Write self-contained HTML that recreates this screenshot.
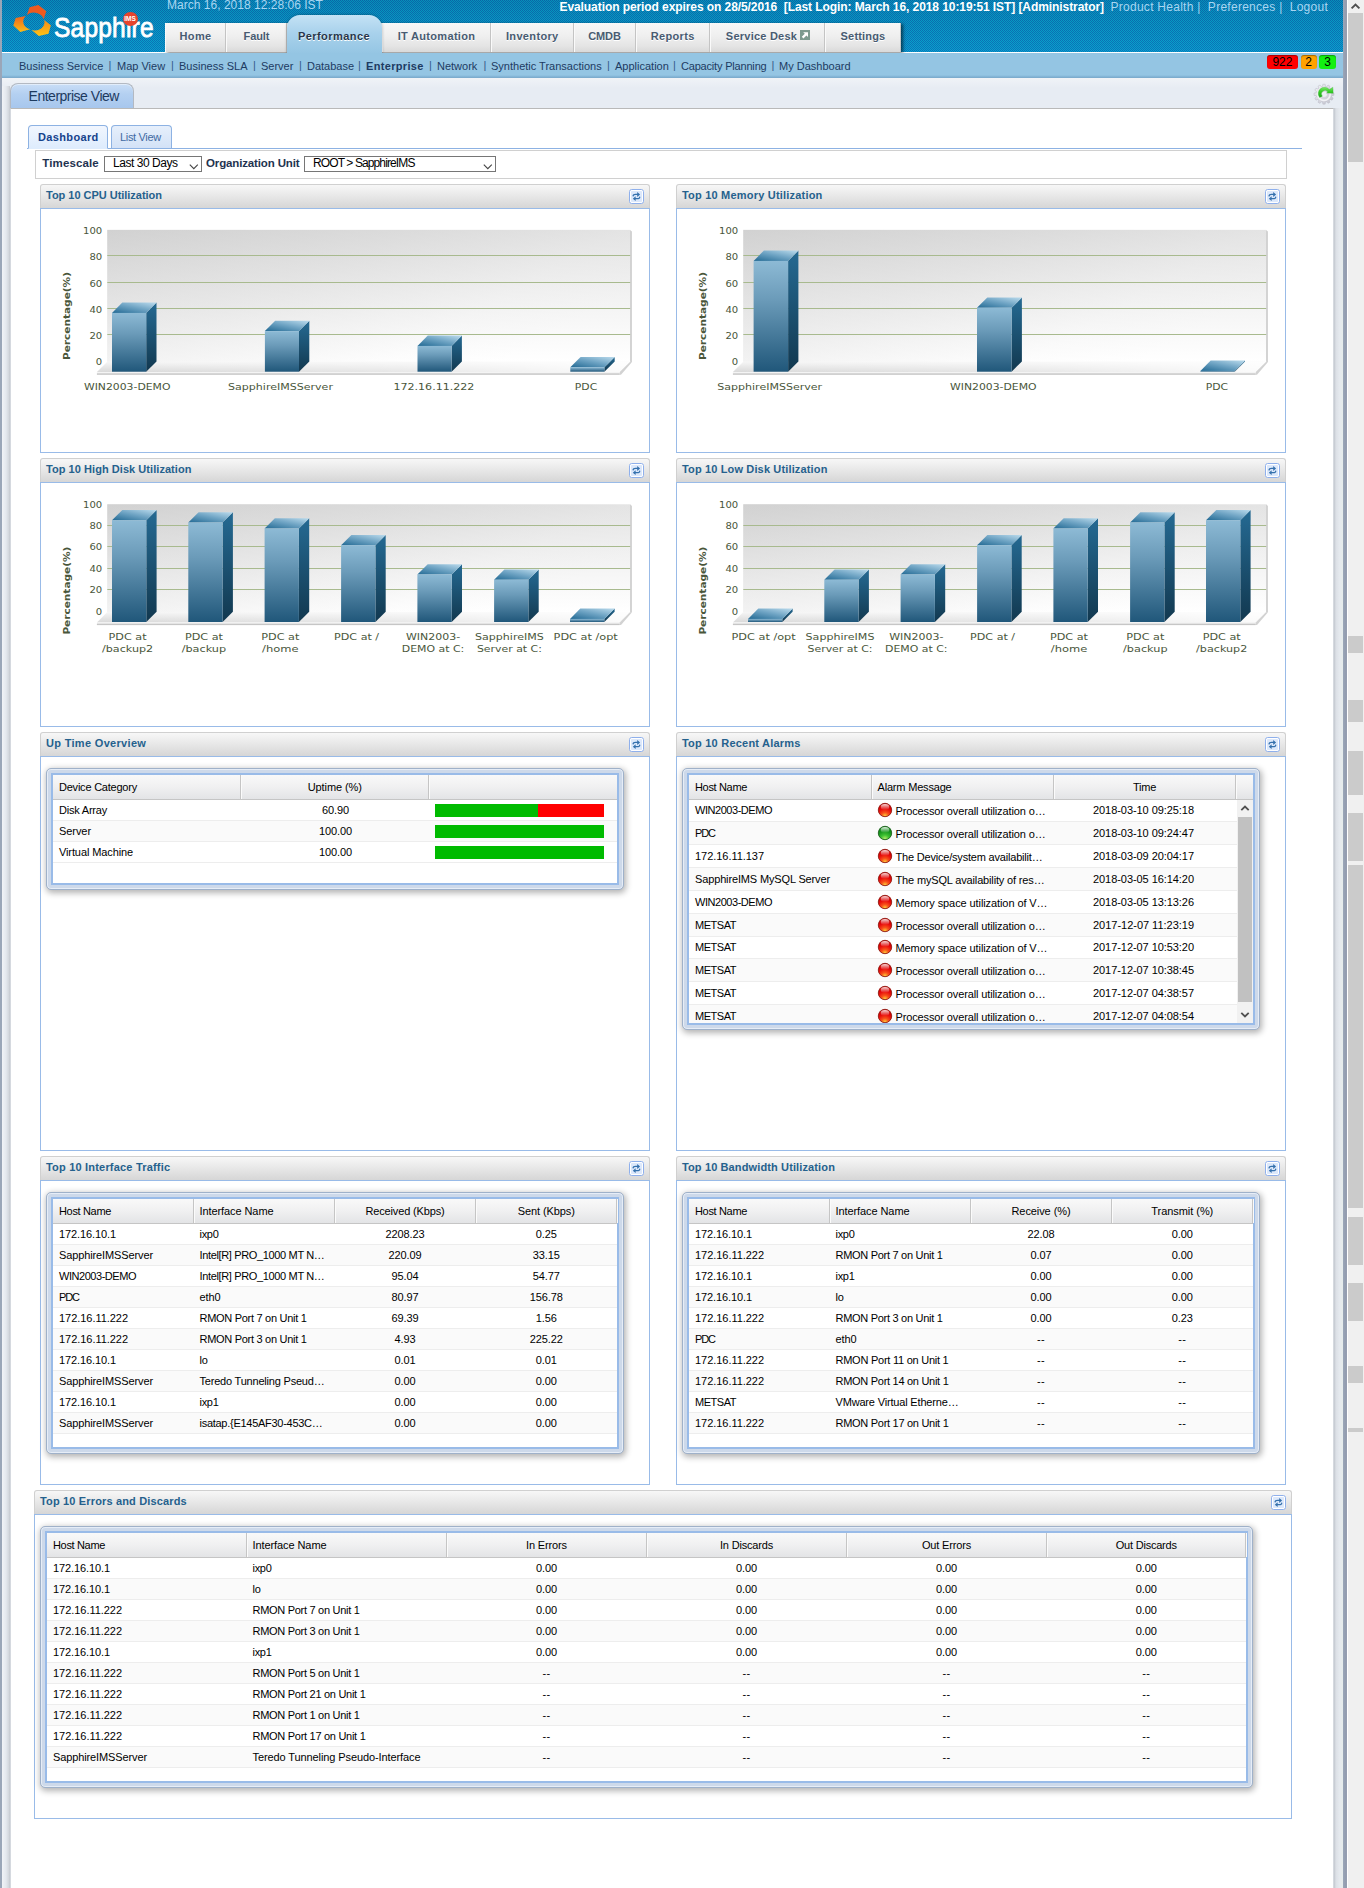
<!DOCTYPE html>
<html lang="en"><head><meta charset="utf-8"><title>SapphireIMS - Enterprise View</title>
<style>
html,body{margin:0;padding:0}
body{width:1364px;height:1888px;position:relative;overflow:hidden;background:#e7ecf3;font-family:"Liberation Sans",Arial,sans-serif;font-size:11px;color:#000}
.b{position:absolute;box-sizing:border-box}
.t{position:absolute;white-space:nowrap}
.hdr{background:linear-gradient(rgba(0,70,120,.22),rgba(0,70,120,.10) 40%,rgba(20,150,230,.10)),repeating-conic-gradient(#08a3cb 0% 25%,#0a72b5 0% 50%) 0 0/2px 2px}
.ntab{background:linear-gradient(#f7f7f7,#efefef 45%,#e4e4e4 80%,#d9d9d9);border-left:1px solid #fafafa;border-right:1px solid #c4c4c4}
.ntx{color:#485b71;text-shadow:0 1px 0 #fff}
.snav{background:linear-gradient(#94c5e3,#94c5e3 88%,#7fb0d2 96%,#7aa8c9)}
.sn{color:#1d3b62}
.ph{background:linear-gradient(#f7f7f7,#ececec 35%,#d6d6d6);border:1px solid #d0d0d0;border-bottom:none;border-radius:3px 3px 0 0}
.pt{color:#25618d}
.pb{border:1px solid #99bbe8;background:#fff}
.xf{border:1px solid #9fb1c9;border-radius:5px;background:#cdd9ea;box-shadow:1px 2px 6px 1px rgba(0,0,0,.30),inset 0 0 0 1px #e6edf7}
.xi{background:#99bbe8}
.gh{background:linear-gradient(#f9f9f9,#f0f0f1 50%,#e3e4e6);border-bottom:1px solid #c5c5c5}

</style></head>
<body>

<div class="b" style="left:2px;top:78px;width:1341px;height:1810px;background:linear-gradient(#f0f3f7,#e7ecf3 10px,#e7ecf3)"></div>
<div class="b" style="left:2px;top:86px;width:8px;height:1802px;background:linear-gradient(90deg,#f1f3f7,#e4e8ee 50%,#d3d7dd 85%,#c4c8cf)"></div>
<div class="b" style="left:1334px;top:108px;width:9px;height:1780px;background:linear-gradient(90deg,#c2c7ce,#dce0e6 22%,#e5e9ee 60%,#e6eceb)"></div>
<div class="b" style="left:1347px;top:0px;width:1px;height:1888px;background:#fff"></div>
<div class="b" style="left:1348px;top:0px;width:16px;height:1888px;background:#f0f0f0"></div>
<svg class="b" style="left:1347px;top:0" width="17" height="13" viewBox="0 0 17 13"><path d="M4.6 8.4 8.5 4.5 12.4 8.4" fill="none" stroke="#505050" stroke-width="1.9"/></svg>
<div class="b" style="left:1348.4px;top:13px;width:14.2px;height:148.5px;background:#cbcbcb"></div>
<div class="b" style="left:1348.4px;top:636px;width:14.2px;height:16.6px;background:#cbcbcb"></div>
<div class="b" style="left:1348.4px;top:700px;width:14.2px;height:22px;background:#cbcbcb"></div>
<div class="b" style="left:1348.4px;top:751px;width:14.2px;height:44px;background:#cbcbcb"></div>
<div class="b" style="left:1348.4px;top:813px;width:14.2px;height:47.5px;background:#cbcbcb"></div>
<div class="b" style="left:1348.4px;top:865px;width:14.2px;height:343.3px;background:#cbcbcb"></div>
<div class="b" style="left:1348.4px;top:1217.2px;width:14.2px;height:47.4px;background:#cbcbcb"></div>
<div class="b" style="left:1348.4px;top:1283px;width:14.2px;height:38px;background:#cbcbcb"></div>
<div class="b" style="left:1348.4px;top:1366px;width:14.2px;height:17px;background:#cbcbcb"></div>
<div class="b" style="left:1348.4px;top:1428px;width:14.2px;height:4px;background:#cbcbcb"></div>
<div class="b" style="left:0px;top:0px;width:2px;height:1888px;background:#9aa6b8"></div>
<div class="b" style="left:1343px;top:0px;width:4px;height:1888px;background:linear-gradient(90deg,#9ba7b8,#939db0 60%,#979fb0)"></div>
<div class="b hdr" style="left:2px;top:0px;width:1341px;height:52px;"></div>
<div class="b" style="left:2px;top:52px;width:1341px;height:1px;background:#fff"></div>
<svg class="b" style="left:8px;top:0px" width="60" height="42" viewBox="8 0 60 42">
<defs><linearGradient id="lgL" x1="0" y1="0" x2="0" y2="1"><stop offset="0" stop-color="#f1621d"/><stop offset="1" stop-color="#fbbd17"/></linearGradient>
<linearGradient id="lgR" x1="0" y1="0" x2="0" y2="1"><stop offset="0" stop-color="#f58a1b"/><stop offset="1" stop-color="#fbc414"/></linearGradient></defs>
<path d="M26.9 15 29.6 7.3 38.4 5.1 46.3 11.2 43.6 19.2 A9.9 8.2 0 0 0 26.9 15Z" fill="#ee5a1f"/>
<path d="M25.8 16 15.7 18 13.3 25.5 20.3 31.9 30.2 29.3 A9.9 8.2 0 0 1 25.8 16Z" fill="url(#lgL)"/>
<path d="M44.1 20 50.9 25.3 48.5 33.7 38.8 36.1 31.6 30.1 A9.9 8.2 0 0 0 44.1 20Z" fill="url(#lgR)"/>
</svg>
<div class="t" style="left:54.4px;top:11.60px;font-size:28px;line-height:32px;color:#fff;transform:scaleX(0.875);transform-origin:0 0;-webkit-text-stroke:0.85px #fff;letter-spacing:0.25px">Sapphire</div>
<div class="b" style="left:122.5px;top:11.5px;width:15px;height:14px;background:#e6442d;border-radius:50%"></div>
<div class="t" style="left:122.5px;top:14.95px;font-size:6.5px;line-height:8px;width:15px;text-align:center;color:#fff;font-weight:bold;letter-spacing:-0.1px">IMS</div>
<div class="t" style="left:167px;top:-3.16px;font-size:12px;line-height:16px;color:#a9d6f1;letter-spacing:0.02px">March 16, 2018 12:28:06 IST</div>
<div class="t evl" style="left:559.5px;top:-1.16px;font-size:12px;line-height:16px;color:#fff;font-weight:bold;white-space:pre;letter-spacing:-0.08px">Evaluation period expires on 28/5/2016  [Last Login: March 16, 2018 10:19:51 IST] [Administrator]</div>
<div class="t prh" style="left:1110.5px;top:-1.16px;font-size:12px;line-height:16px;color:#a9d6f1;white-space:pre;letter-spacing:0.27px">Product Health |  Preferences |  Logout</div>
<div class="b" style="left:165px;top:23px;width:736px;height:29px;box-shadow:2px 1px 3px rgba(0,0,0,.55);background:#eee"></div>
<div class="b ntab" style="left:165px;top:23px;width:61px;height:29px;"></div>
<div class="t ntx" style="left:165px;top:28.99px;font-size:11px;line-height:15px;width:61px;text-align:center;font-weight:bold;letter-spacing:0.359px;">Home</div>
<div class="b ntab" style="left:226px;top:23px;width:61px;height:29px;"></div>
<div class="t ntx" style="left:226px;top:28.99px;font-size:11px;line-height:15px;width:61px;text-align:center;font-weight:bold;letter-spacing:-0.096px;">Fault</div>
<div class="b ntab" style="left:382px;top:23px;width:109px;height:29px;"></div>
<div class="t ntx" style="left:382px;top:28.99px;font-size:11px;line-height:15px;width:109px;text-align:center;font-weight:bold;letter-spacing:0.313px;">IT Automation</div>
<div class="b ntab" style="left:491px;top:23px;width:82.5px;height:29px;"></div>
<div class="t ntx" style="left:491px;top:28.99px;font-size:11px;line-height:15px;width:82.5px;text-align:center;font-weight:bold;letter-spacing:0.343px;">Inventory</div>
<div class="b ntab" style="left:573.5px;top:23px;width:62px;height:29px;"></div>
<div class="t ntx" style="left:573.5px;top:28.99px;font-size:11px;line-height:15px;width:62px;text-align:center;font-weight:bold;letter-spacing:-0.100px;">CMDB</div>
<div class="b ntab" style="left:635.5px;top:23px;width:74.5px;height:29px;"></div>
<div class="t ntx" style="left:635.5px;top:28.99px;font-size:11px;line-height:15px;width:74.5px;text-align:center;font-weight:bold;letter-spacing:0.320px;">Reports</div>
<div class="b ntab" style="left:710px;top:23px;width:115px;height:29px;"></div>
<div class="t ntx" style="left:710px;top:28.99px;font-size:11px;line-height:15px;width:103px;text-align:center;font-weight:bold;letter-spacing:0.233px;">Service Desk</div>
<svg class="b" style="left:800px;top:30px" width="10" height="10" viewBox="0 0 10 10"><rect width="10" height="10" fill="#7d9a8f"/><path d="M3.2 2.2H8V7L6.4 5.4 3.4 8.4 1.8 6.8 4.8 3.8Z" fill="#fff"/></svg>
<div class="b ntab" style="left:825px;top:23px;width:76px;height:29px;"></div>
<div class="t ntx" style="left:825px;top:28.99px;font-size:11px;line-height:15px;width:76px;text-align:center;font-weight:bold;letter-spacing:0.174px;">Settings</div>
<div class="b" style="left:286.5px;top:15px;width:95px;height:39px;background:linear-gradient(#c4e2f5,#a9d2ec 45%,#94c5e3);border-radius:13px 13px 0 0;box-shadow:0 0 3px rgba(0,0,0,.35)"></div>
<div class="b" style="left:280px;top:53px;width:110px;height:3px;background:#94c5e3"></div>
<div class="t ntx" style="left:286.5px;top:28.99px;font-size:11px;line-height:15px;width:95px;text-align:center;font-weight:bold;letter-spacing:0.430px;color:#26364a">Performance</div>
<div class="b snav" style="left:2px;top:53px;width:1341px;height:25px;"></div>
<div class="t sn" style="left:19px;top:59.09px;font-size:11px;line-height:15px;">Business Service</div>
<div class="t sn" style="left:117px;top:59.09px;font-size:11px;line-height:15px;">Map View</div>
<div class="t sn" style="left:179px;top:59.09px;font-size:11px;line-height:15px;">Business SLA</div>
<div class="t sn" style="left:261px;top:59.09px;font-size:11px;line-height:15px;">Server</div>
<div class="t sn" style="left:307px;top:59.09px;font-size:11px;line-height:15px;">Database</div>
<div class="t sn" style="left:366px;top:59.09px;font-size:11px;line-height:15px;font-weight:bold;letter-spacing:0.33px">Enterprise</div>
<div class="t sn" style="left:437px;top:59.09px;font-size:11px;line-height:15px;">Network</div>
<div class="t sn" style="left:491px;top:59.09px;font-size:11px;line-height:15px;">Synthetic Transactions</div>
<div class="t sn" style="left:615px;top:59.09px;font-size:11px;line-height:15px;">Application</div>
<div class="t sn" style="left:681px;top:59.09px;font-size:11px;line-height:15px;letter-spacing:-0.187px;">Capacity Planning</div>
<div class="t sn" style="left:779px;top:59.09px;font-size:11px;line-height:15px;">My Dashboard</div>
<div class="t sn" style="left:108.5px;top:58.29px;font-size:11px;line-height:15px;color:#35598a">|</div>
<div class="t sn" style="left:171px;top:58.29px;font-size:11px;line-height:15px;color:#35598a">|</div>
<div class="t sn" style="left:253px;top:58.29px;font-size:11px;line-height:15px;color:#35598a">|</div>
<div class="t sn" style="left:299px;top:58.29px;font-size:11px;line-height:15px;color:#35598a">|</div>
<div class="t sn" style="left:358px;top:58.29px;font-size:11px;line-height:15px;color:#35598a">|</div>
<div class="t sn" style="left:429px;top:58.29px;font-size:11px;line-height:15px;color:#35598a">|</div>
<div class="t sn" style="left:483.5px;top:58.29px;font-size:11px;line-height:15px;color:#35598a">|</div>
<div class="t sn" style="left:607px;top:58.29px;font-size:11px;line-height:15px;color:#35598a">|</div>
<div class="t sn" style="left:673px;top:58.29px;font-size:11px;line-height:15px;color:#35598a">|</div>
<div class="t sn" style="left:771.5px;top:58.29px;font-size:11px;line-height:15px;color:#35598a">|</div>
<div class="b" style="left:1266.9px;top:55px;width:31.1px;height:14px;background:#ff0000;border-radius:3px;box-shadow:inset 0 1px 1px rgba(0,0,0,.35)"></div>
<div class="t" style="left:1266.9px;top:54.14px;font-size:12px;line-height:16px;width:31.1px;text-align:center;color:#000">922</div>
<div class="b" style="left:1300.5px;top:55px;width:16.3px;height:14px;background:#ffa200;border-radius:3px;box-shadow:inset 0 1px 1px rgba(0,0,0,.35)"></div>
<div class="t" style="left:1300.5px;top:54.14px;font-size:12px;line-height:16px;width:16.3px;text-align:center;color:#000">2</div>
<div class="b" style="left:1319.3px;top:55px;width:16.7px;height:14px;background:#12f012;border-radius:3px;box-shadow:inset 0 1px 1px rgba(0,0,0,.35)"></div>
<div class="t" style="left:1319.3px;top:54.14px;font-size:12px;line-height:16px;width:16.7px;text-align:center;color:#000">3</div>
<div class="b" style="left:10px;top:83px;width:124px;height:26px;background:linear-gradient(#c9def7,#b4d0f1 40%,#a6c6ed);border:1px solid #b3b9c2;border-bottom:none;border-radius:8px 8px 0 0;box-shadow:inset 0 1px 0 rgba(255,255,255,.45)"></div>
<div class="t" style="left:28.6px;top:86.95px;font-size:14px;line-height:18px;color:#1d3a5f;letter-spacing:-0.5px">Enterprise View</div>
<div class="b" style="left:10px;top:108px;width:1324px;height:1780px;background:#fff;border-top:1px solid #b9b9b9;border-left:1px solid #d5d9df;border-right:1px solid #d5d9df"></div>
<svg class="b" style="left:1312px;top:82px" width="24" height="24" viewBox="1312 82 24 24">
<defs><linearGradient id="gg" x1="0" y1="0" x2="1" y2="1"><stop offset="0" stop-color="#f6f6f9"/><stop offset="0.5" stop-color="#d9d9e0"/><stop offset="1" stop-color="#bfbfca"/></linearGradient>
<linearGradient id="ga" x1="0" y1="0" x2="0" y2="1"><stop offset="0" stop-color="#7be868"/><stop offset="0.45" stop-color="#35cc26"/><stop offset="1" stop-color="#1da51a"/></linearGradient></defs>
<g transform="translate(1324,94.2)"><polygon points="-1.46,-7.87 -1.13,-9.94 1.13,-9.94 1.46,-7.87 2.67,-7.54 3.99,-9.17 5.95,-8.04 5.20,-6.08 6.08,-5.20 8.04,-5.95 9.17,-3.99 7.54,-2.67 7.87,-1.46 9.94,-1.13 9.94,1.13 7.87,1.46 7.54,2.67 9.17,3.99 8.04,5.95 6.08,5.20 5.20,6.08 5.95,8.04 3.99,9.17 2.67,7.54 1.46,7.87 1.13,9.94 -1.13,9.94 -1.46,7.87 -2.67,7.54 -3.99,9.17 -5.95,8.04 -5.20,6.08 -6.08,5.20 -8.04,5.95 -9.17,3.99 -7.54,2.67 -7.87,1.46 -9.94,1.13 -9.94,-1.13 -7.87,-1.46 -7.54,-2.67 -9.17,-3.99 -8.04,-5.95 -6.08,-5.20 -5.20,-6.08 -5.95,-8.04 -3.99,-9.17 -2.67,-7.54" fill="url(#gg)" stroke="#b3b3c0" stroke-width="0.45" stroke-linejoin="round"/>
<circle r="6.2" fill="none" stroke="#f7f7fa" stroke-width="1.6" opacity="0.85"/>
<circle r="3.3" fill="#eef0f6" stroke="#c2c2cc" stroke-width="0.4"/></g>
<path d="M1319.6 97.4 A6.1 6.1 0 0 1 1329.4 89.6 L1332.8 87.2 1333.2 93.2 1326.6 93.1 1327.9 91.9 A3.1 3.1 0 0 0 1322.3 96.2Z" fill="url(#ga)" stroke="#27a522" stroke-width="0.3"/>
</svg>
<div class="b" style="left:26.5px;top:148px;width:1275.5px;height:1px;background:#8db2e3"></div>
<div class="b" style="left:28px;top:125px;width:80px;height:24px;background:linear-gradient(#f1f6fe,#deecfd);border:1px solid #8db2e3;border-bottom:1px solid #deecfd;border-radius:4px 4px 0 0"></div>
<div class="t" style="left:38px;top:129.99px;font-size:11px;line-height:15px;color:#15428b;font-weight:bold;letter-spacing:0.36px">Dashboard</div>
<div class="b" style="left:111px;top:125px;width:61px;height:23px;background:linear-gradient(#e6effb,#d3e2f7);border:1px solid #8db2e3;border-bottom:none;border-radius:4px 4px 0 0"></div>
<div class="t" style="left:120px;top:129.99px;font-size:11px;line-height:15px;color:#416aa3;letter-spacing:-0.33px">List View</div>
<div class="b" style="left:35px;top:150px;width:1252px;height:29px;border:1px solid #d0d0d0;background:#fff"></div>
<div class="t" style="left:42.3px;top:155.87px;font-size:11.5px;line-height:15.5px;font-weight:bold;letter-spacing:0.131px;color:#1f3350">Timescale</div>
<div class="b" style="left:104px;top:156px;width:98px;height:16px;border:1px solid #767676;background:#fff"></div>
<div class="t" style="left:113px;top:155.34px;font-size:12px;line-height:16px;letter-spacing:-0.462px;">Last 30 Days</div>
<svg class="b" style="left:187.5px;top:161.5px" width="12" height="9" viewBox="0 0 12 9"><path d="M1.8 2.6 5.8 6.6 9.8 2.6" fill="none" stroke="#444" stroke-width="1.1"/></svg>
<div class="t" style="left:206px;top:155.87px;font-size:11.5px;line-height:15.5px;font-weight:bold;letter-spacing:-0.138px;color:#1f3350">Organization Unit</div>
<div class="b" style="left:304px;top:156px;width:192px;height:16px;border:1px solid #767676;background:#fff"></div>
<div class="t" style="left:313px;top:155.34px;font-size:12px;line-height:16px;letter-spacing:-0.889px;">ROOT &gt; SapphireIMS</div>
<svg class="b" style="left:481.5px;top:161.5px" width="12" height="9" viewBox="0 0 12 9"><path d="M1.8 2.6 5.8 6.6 9.8 2.6" fill="none" stroke="#444" stroke-width="1.1"/></svg>
<div class="b ph" style="left:40px;top:184px;width:610px;height:24px;"></div>
<div class="t pt" style="left:46px;top:188.19px;font-size:11px;line-height:15px;font-weight:bold;letter-spacing:-0.024px;">Top 10 CPU Utilization</div>
<svg class="b" style="left:629px;top:189px" width="15" height="15" viewBox="0 0 15 15"><rect x="0.5" y="0.5" width="14" height="14" rx="2.2" fill="#fff" stroke="#8fb0ec"/><rect x="2" y="2" width="11" height="11" rx="0.8" fill="#dce8fb"/><g fill="none" stroke="#3571ad" stroke-width="1.25" stroke-linecap="round"><path d="M4.1 6.9 Q4.2 5.3 6.6 5.3 H8.6"/><path d="M10.7 8.2 Q10.6 9.7 8.2 9.7 H6.2"/></g><path d="M8.2 2.9 11.1 5.4 8.2 7.9Z" fill="#3571ad"/><path d="M6.6 7.3 3.8 9.7 6.6 12.1Z" fill="#3571ad"/></svg>
<div class="b pb" style="left:40px;top:208px;width:610px;height:245px;"></div>
<div class="b ph" style="left:676px;top:184px;width:610px;height:24px;"></div>
<div class="t pt" style="left:682px;top:188.19px;font-size:11px;line-height:15px;font-weight:bold;letter-spacing:0.201px;">Top 10 Memory Utilization</div>
<svg class="b" style="left:1265px;top:189px" width="15" height="15" viewBox="0 0 15 15"><rect x="0.5" y="0.5" width="14" height="14" rx="2.2" fill="#fff" stroke="#8fb0ec"/><rect x="2" y="2" width="11" height="11" rx="0.8" fill="#dce8fb"/><g fill="none" stroke="#3571ad" stroke-width="1.25" stroke-linecap="round"><path d="M4.1 6.9 Q4.2 5.3 6.6 5.3 H8.6"/><path d="M10.7 8.2 Q10.6 9.7 8.2 9.7 H6.2"/></g><path d="M8.2 2.9 11.1 5.4 8.2 7.9Z" fill="#3571ad"/><path d="M6.6 7.3 3.8 9.7 6.6 12.1Z" fill="#3571ad"/></svg>
<div class="b pb" style="left:676px;top:208px;width:610px;height:245px;"></div>
<div class="b ph" style="left:40px;top:458px;width:610px;height:24px;"></div>
<div class="t pt" style="left:46px;top:462.19px;font-size:11px;line-height:15px;font-weight:bold;letter-spacing:0.052px;">Top 10 High Disk Utilization</div>
<svg class="b" style="left:629px;top:463px" width="15" height="15" viewBox="0 0 15 15"><rect x="0.5" y="0.5" width="14" height="14" rx="2.2" fill="#fff" stroke="#8fb0ec"/><rect x="2" y="2" width="11" height="11" rx="0.8" fill="#dce8fb"/><g fill="none" stroke="#3571ad" stroke-width="1.25" stroke-linecap="round"><path d="M4.1 6.9 Q4.2 5.3 6.6 5.3 H8.6"/><path d="M10.7 8.2 Q10.6 9.7 8.2 9.7 H6.2"/></g><path d="M8.2 2.9 11.1 5.4 8.2 7.9Z" fill="#3571ad"/><path d="M6.6 7.3 3.8 9.7 6.6 12.1Z" fill="#3571ad"/></svg>
<div class="b pb" style="left:40px;top:482px;width:610px;height:245px;"></div>
<div class="b ph" style="left:676px;top:458px;width:610px;height:24px;"></div>
<div class="t pt" style="left:682px;top:462.19px;font-size:11px;line-height:15px;font-weight:bold;letter-spacing:0.145px;">Top 10 Low Disk Utilization</div>
<svg class="b" style="left:1265px;top:463px" width="15" height="15" viewBox="0 0 15 15"><rect x="0.5" y="0.5" width="14" height="14" rx="2.2" fill="#fff" stroke="#8fb0ec"/><rect x="2" y="2" width="11" height="11" rx="0.8" fill="#dce8fb"/><g fill="none" stroke="#3571ad" stroke-width="1.25" stroke-linecap="round"><path d="M4.1 6.9 Q4.2 5.3 6.6 5.3 H8.6"/><path d="M10.7 8.2 Q10.6 9.7 8.2 9.7 H6.2"/></g><path d="M8.2 2.9 11.1 5.4 8.2 7.9Z" fill="#3571ad"/><path d="M6.6 7.3 3.8 9.7 6.6 12.1Z" fill="#3571ad"/></svg>
<div class="b pb" style="left:676px;top:482px;width:610px;height:245px;"></div>
<div class="b ph" style="left:40px;top:732px;width:610px;height:24px;"></div>
<div class="t pt" style="left:46px;top:736.19px;font-size:11px;line-height:15px;font-weight:bold;letter-spacing:0.314px;">Up Time Overview</div>
<svg class="b" style="left:629px;top:737px" width="15" height="15" viewBox="0 0 15 15"><rect x="0.5" y="0.5" width="14" height="14" rx="2.2" fill="#fff" stroke="#8fb0ec"/><rect x="2" y="2" width="11" height="11" rx="0.8" fill="#dce8fb"/><g fill="none" stroke="#3571ad" stroke-width="1.25" stroke-linecap="round"><path d="M4.1 6.9 Q4.2 5.3 6.6 5.3 H8.6"/><path d="M10.7 8.2 Q10.6 9.7 8.2 9.7 H6.2"/></g><path d="M8.2 2.9 11.1 5.4 8.2 7.9Z" fill="#3571ad"/><path d="M6.6 7.3 3.8 9.7 6.6 12.1Z" fill="#3571ad"/></svg>
<div class="b pb" style="left:40px;top:756px;width:610px;height:395px;"></div>
<div class="b ph" style="left:676px;top:732px;width:610px;height:24px;"></div>
<div class="t pt" style="left:682px;top:736.19px;font-size:11px;line-height:15px;font-weight:bold;letter-spacing:0.219px;">Top 10 Recent Alarms</div>
<svg class="b" style="left:1265px;top:737px" width="15" height="15" viewBox="0 0 15 15"><rect x="0.5" y="0.5" width="14" height="14" rx="2.2" fill="#fff" stroke="#8fb0ec"/><rect x="2" y="2" width="11" height="11" rx="0.8" fill="#dce8fb"/><g fill="none" stroke="#3571ad" stroke-width="1.25" stroke-linecap="round"><path d="M4.1 6.9 Q4.2 5.3 6.6 5.3 H8.6"/><path d="M10.7 8.2 Q10.6 9.7 8.2 9.7 H6.2"/></g><path d="M8.2 2.9 11.1 5.4 8.2 7.9Z" fill="#3571ad"/><path d="M6.6 7.3 3.8 9.7 6.6 12.1Z" fill="#3571ad"/></svg>
<div class="b pb" style="left:676px;top:756px;width:610px;height:395px;"></div>
<div class="b ph" style="left:40px;top:1156px;width:610px;height:24px;"></div>
<div class="t pt" style="left:46px;top:1160.19px;font-size:11px;line-height:15px;font-weight:bold;letter-spacing:0.195px;">Top 10 Interface Traffic</div>
<svg class="b" style="left:629px;top:1161px" width="15" height="15" viewBox="0 0 15 15"><rect x="0.5" y="0.5" width="14" height="14" rx="2.2" fill="#fff" stroke="#8fb0ec"/><rect x="2" y="2" width="11" height="11" rx="0.8" fill="#dce8fb"/><g fill="none" stroke="#3571ad" stroke-width="1.25" stroke-linecap="round"><path d="M4.1 6.9 Q4.2 5.3 6.6 5.3 H8.6"/><path d="M10.7 8.2 Q10.6 9.7 8.2 9.7 H6.2"/></g><path d="M8.2 2.9 11.1 5.4 8.2 7.9Z" fill="#3571ad"/><path d="M6.6 7.3 3.8 9.7 6.6 12.1Z" fill="#3571ad"/></svg>
<div class="b pb" style="left:40px;top:1180px;width:610px;height:305px;"></div>
<div class="b ph" style="left:676px;top:1156px;width:610px;height:24px;"></div>
<div class="t pt" style="left:682px;top:1160.19px;font-size:11px;line-height:15px;font-weight:bold;letter-spacing:0.124px;">Top 10 Bandwidth Utilization</div>
<svg class="b" style="left:1265px;top:1161px" width="15" height="15" viewBox="0 0 15 15"><rect x="0.5" y="0.5" width="14" height="14" rx="2.2" fill="#fff" stroke="#8fb0ec"/><rect x="2" y="2" width="11" height="11" rx="0.8" fill="#dce8fb"/><g fill="none" stroke="#3571ad" stroke-width="1.25" stroke-linecap="round"><path d="M4.1 6.9 Q4.2 5.3 6.6 5.3 H8.6"/><path d="M10.7 8.2 Q10.6 9.7 8.2 9.7 H6.2"/></g><path d="M8.2 2.9 11.1 5.4 8.2 7.9Z" fill="#3571ad"/><path d="M6.6 7.3 3.8 9.7 6.6 12.1Z" fill="#3571ad"/></svg>
<div class="b pb" style="left:676px;top:1180px;width:610px;height:305px;"></div>
<div class="b ph" style="left:34px;top:1490px;width:1258px;height:24px;"></div>
<div class="t pt" style="left:40px;top:1494.19px;font-size:11px;line-height:15px;font-weight:bold;letter-spacing:0.155px;">Top 10 Errors and Discards</div>
<svg class="b" style="left:1271px;top:1495px" width="15" height="15" viewBox="0 0 15 15"><rect x="0.5" y="0.5" width="14" height="14" rx="2.2" fill="#fff" stroke="#8fb0ec"/><rect x="2" y="2" width="11" height="11" rx="0.8" fill="#dce8fb"/><g fill="none" stroke="#3571ad" stroke-width="1.25" stroke-linecap="round"><path d="M4.1 6.9 Q4.2 5.3 6.6 5.3 H8.6"/><path d="M10.7 8.2 Q10.6 9.7 8.2 9.7 H6.2"/></g><path d="M8.2 2.9 11.1 5.4 8.2 7.9Z" fill="#3571ad"/><path d="M6.6 7.3 3.8 9.7 6.6 12.1Z" fill="#3571ad"/></svg>
<div class="b pb" style="left:34px;top:1514px;width:1258px;height:305px;"></div>
<svg class="b" style="left:41px;top:209px" width="608" height="243" viewBox="41 209 608 243" font-family="DejaVu Sans, Verdana, sans-serif" font-size="9" fill="#49563a">
<defs>
<linearGradient id="c1bg" x1="0" y1="0" x2="1" y2="0.45"><stop offset="0" stop-color="#d3d3d3"/><stop offset="0.45" stop-color="#e7e7e7"/><stop offset="0.82" stop-color="#fbfbfb"/><stop offset="1" stop-color="#ffffff"/></linearGradient>
<linearGradient id="c1bgv" x1="0" y1="0" x2="0" y2="1"><stop offset="0" stop-color="#d0d0d0" stop-opacity="0.55"/><stop offset="1" stop-color="#ffffff" stop-opacity="0.55"/></linearGradient>
<linearGradient id="c1fl" x1="0" y1="0" x2="0" y2="1"><stop offset="0" stop-color="#f6f6f6"/><stop offset="1" stop-color="#d9d9d9"/></linearGradient>
<linearGradient id="c1flh" x1="0" y1="0" x2="1" y2="0"><stop offset="0" stop-color="#fff" stop-opacity="0"/><stop offset="0.55" stop-color="#fff" stop-opacity="0.35"/><stop offset="1" stop-color="#fff" stop-opacity="0.9"/></linearGradient>
<linearGradient id="c1ff" x1="0" y1="0" x2="0" y2="1"><stop offset="0" stop-color="#8dbad5"/><stop offset="0.35" stop-color="#6b9bb9"/><stop offset="1" stop-color="#20577a"/></linearGradient>
<linearGradient id="c1fs" x1="0" y1="0" x2="0" y2="1"><stop offset="0" stop-color="#256a93"/><stop offset="1" stop-color="#12384f"/></linearGradient>
<linearGradient id="c1ft" x1="0" y1="1" x2="0.9" y2="0"><stop offset="0" stop-color="#236a94"/><stop offset="0.55" stop-color="#6fa4c4"/><stop offset="1" stop-color="#b4d6e9"/></linearGradient>
</defs>
<rect x="107.3" y="229.9" width="522.9" height="131.8" fill="url(#c1bg)"/>
<rect x="107.3" y="229.9" width="522.9" height="131.8" fill="url(#c1bgv)"/>
<polygon points="630.2,229.9 631.8,231.5 631.8,362.2 630.2,361.7" fill="#c9c9c9"/>
<rect x="107.3" y="255" width="522.9" height="1" fill="#a8ba8e"/>
<rect x="107.3" y="282" width="522.9" height="1" fill="#a8ba8e"/>
<rect x="107.3" y="308" width="522.9" height="1" fill="#a8ba8e"/>
<rect x="107.3" y="334" width="522.9" height="1" fill="#a8ba8e"/>
<polygon points="107.3,361.7 630.2,361.7 619.8,372.1 96.9,372.1" fill="url(#c1fl)"/>
<polygon points="107.3,361.7 630.2,361.7 619.8,372.1 96.9,372.1" fill="url(#c1flh)"/>
<rect x="96.9" y="372.1" width="522.9" height="1.2" fill="#f3f3f3"/>
<rect x="96.9" y="373.3" width="522.9" height="1.5" fill="#c6c6c6"/>
<polygon points="630.2,361.7 631.8,362.2 621.0,374.8 619.8,374.8 619.8,372.1" fill="#d2d2d2"/>
<polygon points="146.2,312.9 156.5,302.6 156.5,361.4 146.2,371.7" fill="url(#c1fs)"/>
<polygon points="112.0,312.9 122.3,302.6 156.5,302.6 146.2,312.9" fill="url(#c1ft)"/>
<rect x="112.0" y="312.9" width="34.2" height="58.8" fill="url(#c1ff)"/>
<polygon points="299.0,331.1 309.3,320.8 309.3,361.4 299.0,371.7" fill="url(#c1fs)"/>
<polygon points="264.9,331.1 275.2,320.8 309.3,320.8 299.0,331.1" fill="url(#c1ft)"/>
<rect x="264.9" y="331.1" width="34.1" height="40.6" fill="url(#c1ff)"/>
<polygon points="451.6,345.9 461.9,335.6 461.9,361.4 451.6,371.7" fill="url(#c1fs)"/>
<polygon points="417.5,345.9 427.8,335.6 461.9,335.6 451.6,345.9" fill="url(#c1ft)"/>
<rect x="417.5" y="345.9" width="34.1" height="25.8" fill="url(#c1ff)"/>
<polygon points="604.4,367.2 614.7,356.9 614.7,361.4 604.4,371.7" fill="url(#c1fs)"/>
<polygon points="570.3,367.2 580.6,356.9 614.7,356.9 604.4,367.2" fill="url(#c1ft)"/>
<rect x="570.3" y="367.2" width="34.1" height="4.5" fill="url(#c1ff)"/>
<text x="102.2" y="233.6" text-anchor="end" textLength="19.2" lengthAdjust="spacingAndGlyphs">100</text>
<text x="102.2" y="259.6" text-anchor="end" textLength="12.8" lengthAdjust="spacingAndGlyphs">80</text>
<text x="102.2" y="286.6" text-anchor="end" textLength="12.8" lengthAdjust="spacingAndGlyphs">60</text>
<text x="102.2" y="312.6" text-anchor="end" textLength="12.8" lengthAdjust="spacingAndGlyphs">40</text>
<text x="102.2" y="338.6" text-anchor="end" textLength="12.8" lengthAdjust="spacingAndGlyphs">20</text>
<text x="102.2" y="364.6" text-anchor="end" textLength="6.4" lengthAdjust="spacingAndGlyphs">0</text>
<text transform="translate(69.8,316.0) rotate(-90)" text-anchor="middle" font-weight="bold" font-size="9.4" textLength="88" lengthAdjust="spacingAndGlyphs">Percentage(%)</text>
<text x="127.2" y="389.8" text-anchor="middle" textLength="86.5" lengthAdjust="spacingAndGlyphs">WIN2003-DEMO</text>
<text x="280.5" y="389.8" text-anchor="middle" textLength="104.9" lengthAdjust="spacingAndGlyphs">SapphireIMSServer</text>
<text x="433.9" y="389.8" text-anchor="middle" textLength="81.0" lengthAdjust="spacingAndGlyphs">172.16.11.222</text>
<text x="586.0" y="389.8" text-anchor="middle" textLength="22.4" lengthAdjust="spacingAndGlyphs">PDC</text>
</svg>
<svg class="b" style="left:677px;top:209px" width="608" height="243" viewBox="677 209 608 243" font-family="DejaVu Sans, Verdana, sans-serif" font-size="9" fill="#49563a">
<defs>
<linearGradient id="c2bg" x1="0" y1="0" x2="1" y2="0.45"><stop offset="0" stop-color="#d3d3d3"/><stop offset="0.45" stop-color="#e7e7e7"/><stop offset="0.82" stop-color="#fbfbfb"/><stop offset="1" stop-color="#ffffff"/></linearGradient>
<linearGradient id="c2bgv" x1="0" y1="0" x2="0" y2="1"><stop offset="0" stop-color="#d0d0d0" stop-opacity="0.55"/><stop offset="1" stop-color="#ffffff" stop-opacity="0.55"/></linearGradient>
<linearGradient id="c2fl" x1="0" y1="0" x2="0" y2="1"><stop offset="0" stop-color="#f6f6f6"/><stop offset="1" stop-color="#d9d9d9"/></linearGradient>
<linearGradient id="c2flh" x1="0" y1="0" x2="1" y2="0"><stop offset="0" stop-color="#fff" stop-opacity="0"/><stop offset="0.55" stop-color="#fff" stop-opacity="0.35"/><stop offset="1" stop-color="#fff" stop-opacity="0.9"/></linearGradient>
<linearGradient id="c2ff" x1="0" y1="0" x2="0" y2="1"><stop offset="0" stop-color="#8dbad5"/><stop offset="0.35" stop-color="#6b9bb9"/><stop offset="1" stop-color="#20577a"/></linearGradient>
<linearGradient id="c2fs" x1="0" y1="0" x2="0" y2="1"><stop offset="0" stop-color="#256a93"/><stop offset="1" stop-color="#12384f"/></linearGradient>
<linearGradient id="c2ft" x1="0" y1="1" x2="0.9" y2="0"><stop offset="0" stop-color="#236a94"/><stop offset="0.55" stop-color="#6fa4c4"/><stop offset="1" stop-color="#b4d6e9"/></linearGradient>
</defs>
<rect x="743.3" y="229.9" width="522.9" height="131.8" fill="url(#c2bg)"/>
<rect x="743.3" y="229.9" width="522.9" height="131.8" fill="url(#c2bgv)"/>
<polygon points="1266.2,229.9 1267.8,231.5 1267.8,362.2 1266.2,361.7" fill="#c9c9c9"/>
<rect x="743.3" y="255" width="522.9" height="1" fill="#a8ba8e"/>
<rect x="743.3" y="282" width="522.9" height="1" fill="#a8ba8e"/>
<rect x="743.3" y="308" width="522.9" height="1" fill="#a8ba8e"/>
<rect x="743.3" y="334" width="522.9" height="1" fill="#a8ba8e"/>
<polygon points="743.3,361.7 1266.2,361.7 1255.8,372.1 732.9,372.1" fill="url(#c2fl)"/>
<polygon points="743.3,361.7 1266.2,361.7 1255.8,372.1 732.9,372.1" fill="url(#c2flh)"/>
<rect x="732.9" y="372.1" width="522.9" height="1.2" fill="#f3f3f3"/>
<rect x="732.9" y="373.3" width="522.9" height="1.5" fill="#c6c6c6"/>
<polygon points="1266.2,361.7 1267.8,362.2 1257.0,374.8 1255.8,374.8 1255.8,372.1" fill="#d2d2d2"/>
<polygon points="788.1,260.9 798.4,250.6 798.4,361.4 788.1,371.7" fill="url(#c2fs)"/>
<polygon points="753.6,260.9 763.9,250.6 798.4,250.6 788.1,260.9" fill="url(#c2ft)"/>
<rect x="753.6" y="260.9" width="34.5" height="110.8" fill="url(#c2ff)"/>
<polygon points="1011.6,307.8 1021.9,297.5 1021.9,361.4 1011.6,371.7" fill="url(#c2fs)"/>
<polygon points="977.0,307.8 987.3,297.5 1021.9,297.5 1011.6,307.8" fill="url(#c2ft)"/>
<rect x="977.0" y="307.8" width="34.6" height="63.9" fill="url(#c2ff)"/>
<polygon points="1234.7,370.9 1245.0,360.6 1245.0,361.4 1234.7,371.7" fill="url(#c2fs)"/>
<polygon points="1200.4,370.9 1210.7,360.6 1245.0,360.6 1234.7,370.9" fill="url(#c2ft)"/>
<rect x="1200.4" y="370.9" width="34.3" height="0.8" fill="url(#c2ff)"/>
<text x="738.2" y="233.6" text-anchor="end" textLength="19.2" lengthAdjust="spacingAndGlyphs">100</text>
<text x="738.2" y="259.6" text-anchor="end" textLength="12.8" lengthAdjust="spacingAndGlyphs">80</text>
<text x="738.2" y="286.6" text-anchor="end" textLength="12.8" lengthAdjust="spacingAndGlyphs">60</text>
<text x="738.2" y="312.6" text-anchor="end" textLength="12.8" lengthAdjust="spacingAndGlyphs">40</text>
<text x="738.2" y="338.6" text-anchor="end" textLength="12.8" lengthAdjust="spacingAndGlyphs">20</text>
<text x="738.2" y="364.6" text-anchor="end" textLength="6.4" lengthAdjust="spacingAndGlyphs">0</text>
<text transform="translate(705.8,316.0) rotate(-90)" text-anchor="middle" font-weight="bold" font-size="9.4" textLength="88" lengthAdjust="spacingAndGlyphs">Percentage(%)</text>
<text x="769.7" y="389.8" text-anchor="middle" textLength="104.9" lengthAdjust="spacingAndGlyphs">SapphireIMSServer</text>
<text x="993.3" y="389.8" text-anchor="middle" textLength="86.5" lengthAdjust="spacingAndGlyphs">WIN2003-DEMO</text>
<text x="1216.9" y="389.8" text-anchor="middle" textLength="22.4" lengthAdjust="spacingAndGlyphs">PDC</text>
</svg>
<svg class="b" style="left:41px;top:483px" width="608" height="243" viewBox="41 483 608 243" font-family="DejaVu Sans, Verdana, sans-serif" font-size="9" fill="#49563a">
<defs>
<linearGradient id="c3bg" x1="0" y1="0" x2="1" y2="0.45"><stop offset="0" stop-color="#d3d3d3"/><stop offset="0.45" stop-color="#e7e7e7"/><stop offset="0.82" stop-color="#fbfbfb"/><stop offset="1" stop-color="#ffffff"/></linearGradient>
<linearGradient id="c3bgv" x1="0" y1="0" x2="0" y2="1"><stop offset="0" stop-color="#d0d0d0" stop-opacity="0.55"/><stop offset="1" stop-color="#ffffff" stop-opacity="0.55"/></linearGradient>
<linearGradient id="c3fl" x1="0" y1="0" x2="0" y2="1"><stop offset="0" stop-color="#f6f6f6"/><stop offset="1" stop-color="#d9d9d9"/></linearGradient>
<linearGradient id="c3flh" x1="0" y1="0" x2="1" y2="0"><stop offset="0" stop-color="#fff" stop-opacity="0"/><stop offset="0.55" stop-color="#fff" stop-opacity="0.35"/><stop offset="1" stop-color="#fff" stop-opacity="0.9"/></linearGradient>
<linearGradient id="c3ff" x1="0" y1="0" x2="0" y2="1"><stop offset="0" stop-color="#8dbad5"/><stop offset="0.35" stop-color="#6b9bb9"/><stop offset="1" stop-color="#20577a"/></linearGradient>
<linearGradient id="c3fs" x1="0" y1="0" x2="0" y2="1"><stop offset="0" stop-color="#256a93"/><stop offset="1" stop-color="#12384f"/></linearGradient>
<linearGradient id="c3ft" x1="0" y1="1" x2="0.9" y2="0"><stop offset="0" stop-color="#236a94"/><stop offset="0.55" stop-color="#6fa4c4"/><stop offset="1" stop-color="#b4d6e9"/></linearGradient>
</defs>
<rect x="107.3" y="504.3" width="522.9" height="107.7" fill="url(#c3bg)"/>
<rect x="107.3" y="504.3" width="522.9" height="107.7" fill="url(#c3bgv)"/>
<polygon points="630.2,504.3 631.8,505.9 631.8,612.5 630.2,612.0" fill="#c9c9c9"/>
<rect x="107.3" y="525" width="522.9" height="1" fill="#a8ba8e"/>
<rect x="107.3" y="546" width="522.9" height="1" fill="#a8ba8e"/>
<rect x="107.3" y="568" width="522.9" height="1" fill="#a8ba8e"/>
<rect x="107.3" y="589" width="522.9" height="1" fill="#a8ba8e"/>
<polygon points="107.3,612.0 630.2,612.0 619.8,622.4 96.9,622.4" fill="url(#c3fl)"/>
<polygon points="107.3,612.0 630.2,612.0 619.8,622.4 96.9,622.4" fill="url(#c3flh)"/>
<rect x="96.9" y="622.4" width="522.9" height="1.2" fill="#f3f3f3"/>
<rect x="96.9" y="623.6" width="522.9" height="1.5" fill="#c6c6c6"/>
<polygon points="630.2,612.0 631.8,612.5 621.0,625.1 619.8,625.1 619.8,622.4" fill="#d2d2d2"/>
<polygon points="146.3,520.2 156.6,509.9 156.6,611.7 146.3,622.0" fill="url(#c3fs)"/>
<polygon points="112.0,520.2 122.3,509.9 156.6,509.9 146.3,520.2" fill="url(#c3ft)"/>
<rect x="112.0" y="520.2" width="34.3" height="101.8" fill="url(#c3ff)"/>
<polygon points="222.6,522.5 232.9,512.2 232.9,611.7 222.6,622.0" fill="url(#c3fs)"/>
<polygon points="188.3,522.5 198.6,512.2 232.9,512.2 222.6,522.5" fill="url(#c3ft)"/>
<rect x="188.3" y="522.5" width="34.3" height="99.5" fill="url(#c3ff)"/>
<polygon points="298.9,528.5 309.2,518.2 309.2,611.7 298.9,622.0" fill="url(#c3fs)"/>
<polygon points="264.6,528.5 274.9,518.2 309.2,518.2 298.9,528.5" fill="url(#c3ft)"/>
<rect x="264.6" y="528.5" width="34.3" height="93.5" fill="url(#c3ff)"/>
<polygon points="375.4,545.2 385.7,535.0 385.7,611.7 375.4,622.0" fill="url(#c3fs)"/>
<polygon points="341.1,545.2 351.4,535.0 385.7,535.0 375.4,545.2" fill="url(#c3ft)"/>
<rect x="341.1" y="545.2" width="34.3" height="76.8" fill="url(#c3ff)"/>
<polygon points="451.7,574.5 462.0,564.2 462.0,611.7 451.7,622.0" fill="url(#c3fs)"/>
<polygon points="417.4,574.5 427.7,564.2 462.0,564.2 451.7,574.5" fill="url(#c3ft)"/>
<rect x="417.4" y="574.5" width="34.3" height="47.5" fill="url(#c3ff)"/>
<polygon points="528.4,579.8 538.7,569.5 538.7,611.7 528.4,622.0" fill="url(#c3fs)"/>
<polygon points="494.1,579.8 504.4,569.5 538.7,569.5 528.4,579.8" fill="url(#c3ft)"/>
<rect x="494.1" y="579.8" width="34.3" height="42.2" fill="url(#c3ff)"/>
<polygon points="604.3,618.9 614.6,608.6 614.6,611.7 604.3,622.0" fill="url(#c3fs)"/>
<polygon points="570.0,618.9 580.3,608.6 614.6,608.6 604.3,618.9" fill="url(#c3ft)"/>
<rect x="570.0" y="618.9" width="34.3" height="3.1" fill="url(#c3ff)"/>
<text x="102.2" y="507.9" text-anchor="end" textLength="19.2" lengthAdjust="spacingAndGlyphs">100</text>
<text x="102.2" y="528.9" text-anchor="end" textLength="12.8" lengthAdjust="spacingAndGlyphs">80</text>
<text x="102.2" y="549.9" text-anchor="end" textLength="12.8" lengthAdjust="spacingAndGlyphs">60</text>
<text x="102.2" y="571.9" text-anchor="end" textLength="12.8" lengthAdjust="spacingAndGlyphs">40</text>
<text x="102.2" y="592.9" text-anchor="end" textLength="12.8" lengthAdjust="spacingAndGlyphs">20</text>
<text x="102.2" y="614.9" text-anchor="end" textLength="6.4" lengthAdjust="spacingAndGlyphs">0</text>
<text transform="translate(69.8,590.6) rotate(-90)" text-anchor="middle" font-weight="bold" font-size="9.4" textLength="88" lengthAdjust="spacingAndGlyphs">Percentage(%)</text>
<text x="127.6" y="640.0" text-anchor="middle" textLength="38.0" lengthAdjust="spacingAndGlyphs">PDC at</text>
<text x="127.6" y="652.0" text-anchor="middle" textLength="51.2" lengthAdjust="spacingAndGlyphs">/backup2</text>
<text x="203.9" y="640.0" text-anchor="middle" textLength="38.0" lengthAdjust="spacingAndGlyphs">PDC at</text>
<text x="203.9" y="652.0" text-anchor="middle" textLength="44.5" lengthAdjust="spacingAndGlyphs">/backup</text>
<text x="280.3" y="640.0" text-anchor="middle" textLength="38.0" lengthAdjust="spacingAndGlyphs">PDC at</text>
<text x="280.3" y="652.0" text-anchor="middle" textLength="36.5" lengthAdjust="spacingAndGlyphs">/home</text>
<text x="356.6" y="640.0" text-anchor="middle" textLength="45.0" lengthAdjust="spacingAndGlyphs">PDC at /</text>
<text x="433.0" y="640.0" text-anchor="middle" textLength="54.2" lengthAdjust="spacingAndGlyphs">WIN2003-</text>
<text x="433.0" y="652.0" text-anchor="middle" textLength="62.5" lengthAdjust="spacingAndGlyphs">DEMO at C:</text>
<text x="509.4" y="640.0" text-anchor="middle" textLength="68.8" lengthAdjust="spacingAndGlyphs">SapphireIMS</text>
<text x="509.4" y="652.0" text-anchor="middle" textLength="65.0" lengthAdjust="spacingAndGlyphs">Server at C:</text>
<text x="585.7" y="640.0" text-anchor="middle" textLength="64.2" lengthAdjust="spacingAndGlyphs">PDC at /opt</text>
</svg>
<svg class="b" style="left:677px;top:483px" width="608" height="243" viewBox="677 483 608 243" font-family="DejaVu Sans, Verdana, sans-serif" font-size="9" fill="#49563a">
<defs>
<linearGradient id="c4bg" x1="0" y1="0" x2="1" y2="0.45"><stop offset="0" stop-color="#d3d3d3"/><stop offset="0.45" stop-color="#e7e7e7"/><stop offset="0.82" stop-color="#fbfbfb"/><stop offset="1" stop-color="#ffffff"/></linearGradient>
<linearGradient id="c4bgv" x1="0" y1="0" x2="0" y2="1"><stop offset="0" stop-color="#d0d0d0" stop-opacity="0.55"/><stop offset="1" stop-color="#ffffff" stop-opacity="0.55"/></linearGradient>
<linearGradient id="c4fl" x1="0" y1="0" x2="0" y2="1"><stop offset="0" stop-color="#f6f6f6"/><stop offset="1" stop-color="#d9d9d9"/></linearGradient>
<linearGradient id="c4flh" x1="0" y1="0" x2="1" y2="0"><stop offset="0" stop-color="#fff" stop-opacity="0"/><stop offset="0.55" stop-color="#fff" stop-opacity="0.35"/><stop offset="1" stop-color="#fff" stop-opacity="0.9"/></linearGradient>
<linearGradient id="c4ff" x1="0" y1="0" x2="0" y2="1"><stop offset="0" stop-color="#8dbad5"/><stop offset="0.35" stop-color="#6b9bb9"/><stop offset="1" stop-color="#20577a"/></linearGradient>
<linearGradient id="c4fs" x1="0" y1="0" x2="0" y2="1"><stop offset="0" stop-color="#256a93"/><stop offset="1" stop-color="#12384f"/></linearGradient>
<linearGradient id="c4ft" x1="0" y1="1" x2="0.9" y2="0"><stop offset="0" stop-color="#236a94"/><stop offset="0.55" stop-color="#6fa4c4"/><stop offset="1" stop-color="#b4d6e9"/></linearGradient>
</defs>
<rect x="743.3" y="504.3" width="522.9" height="107.7" fill="url(#c4bg)"/>
<rect x="743.3" y="504.3" width="522.9" height="107.7" fill="url(#c4bgv)"/>
<polygon points="1266.2,504.3 1267.8,505.9 1267.8,612.5 1266.2,612.0" fill="#c9c9c9"/>
<rect x="743.3" y="525" width="522.9" height="1" fill="#a8ba8e"/>
<rect x="743.3" y="546" width="522.9" height="1" fill="#a8ba8e"/>
<rect x="743.3" y="568" width="522.9" height="1" fill="#a8ba8e"/>
<rect x="743.3" y="589" width="522.9" height="1" fill="#a8ba8e"/>
<polygon points="743.3,612.0 1266.2,612.0 1255.8,622.4 732.9,622.4" fill="url(#c4fl)"/>
<polygon points="743.3,612.0 1266.2,612.0 1255.8,622.4 732.9,622.4" fill="url(#c4flh)"/>
<rect x="732.9" y="622.4" width="522.9" height="1.2" fill="#f3f3f3"/>
<rect x="732.9" y="623.6" width="522.9" height="1.5" fill="#c6c6c6"/>
<polygon points="1266.2,612.0 1267.8,612.5 1257.0,625.1 1255.8,625.1 1255.8,622.4" fill="#d2d2d2"/>
<polygon points="782.3,618.9 792.6,608.6 792.6,611.7 782.3,622.0" fill="url(#c4fs)"/>
<polygon points="748.0,618.9 758.3,608.6 792.6,608.6 782.3,618.9" fill="url(#c4ft)"/>
<rect x="748.0" y="618.9" width="34.3" height="3.1" fill="url(#c4ff)"/>
<polygon points="858.6,579.8 868.9,569.5 868.9,611.7 858.6,622.0" fill="url(#c4fs)"/>
<polygon points="824.3,579.8 834.6,569.5 868.9,569.5 858.6,579.8" fill="url(#c4ft)"/>
<rect x="824.3" y="579.8" width="34.3" height="42.2" fill="url(#c4ff)"/>
<polygon points="934.9,574.5 945.2,564.2 945.2,611.7 934.9,622.0" fill="url(#c4fs)"/>
<polygon points="900.6,574.5 910.9,564.2 945.2,564.2 934.9,574.5" fill="url(#c4ft)"/>
<rect x="900.6" y="574.5" width="34.3" height="47.5" fill="url(#c4ff)"/>
<polygon points="1011.4,545.2 1021.7,535.0 1021.7,611.7 1011.4,622.0" fill="url(#c4fs)"/>
<polygon points="977.1,545.2 987.4,535.0 1021.7,535.0 1011.4,545.2" fill="url(#c4ft)"/>
<rect x="977.1" y="545.2" width="34.3" height="76.8" fill="url(#c4ff)"/>
<polygon points="1087.7,528.5 1098.0,518.2 1098.0,611.7 1087.7,622.0" fill="url(#c4fs)"/>
<polygon points="1053.4,528.5 1063.7,518.2 1098.0,518.2 1087.7,528.5" fill="url(#c4ft)"/>
<rect x="1053.4" y="528.5" width="34.3" height="93.5" fill="url(#c4ff)"/>
<polygon points="1164.4,522.5 1174.7,512.2 1174.7,611.7 1164.4,622.0" fill="url(#c4fs)"/>
<polygon points="1130.1,522.5 1140.4,512.2 1174.7,512.2 1164.4,522.5" fill="url(#c4ft)"/>
<rect x="1130.1" y="522.5" width="34.3" height="99.5" fill="url(#c4ff)"/>
<polygon points="1240.3,520.2 1250.6,509.9 1250.6,611.7 1240.3,622.0" fill="url(#c4fs)"/>
<polygon points="1206.0,520.2 1216.3,509.9 1250.6,509.9 1240.3,520.2" fill="url(#c4ft)"/>
<rect x="1206.0" y="520.2" width="34.3" height="101.8" fill="url(#c4ff)"/>
<text x="738.2" y="507.9" text-anchor="end" textLength="19.2" lengthAdjust="spacingAndGlyphs">100</text>
<text x="738.2" y="528.9" text-anchor="end" textLength="12.8" lengthAdjust="spacingAndGlyphs">80</text>
<text x="738.2" y="549.9" text-anchor="end" textLength="12.8" lengthAdjust="spacingAndGlyphs">60</text>
<text x="738.2" y="571.9" text-anchor="end" textLength="12.8" lengthAdjust="spacingAndGlyphs">40</text>
<text x="738.2" y="592.9" text-anchor="end" textLength="12.8" lengthAdjust="spacingAndGlyphs">20</text>
<text x="738.2" y="614.9" text-anchor="end" textLength="6.4" lengthAdjust="spacingAndGlyphs">0</text>
<text transform="translate(705.8,590.6) rotate(-90)" text-anchor="middle" font-weight="bold" font-size="9.4" textLength="88" lengthAdjust="spacingAndGlyphs">Percentage(%)</text>
<text x="763.6" y="640.0" text-anchor="middle" textLength="64.2" lengthAdjust="spacingAndGlyphs">PDC at /opt</text>
<text x="840.0" y="640.0" text-anchor="middle" textLength="68.8" lengthAdjust="spacingAndGlyphs">SapphireIMS</text>
<text x="840.0" y="652.0" text-anchor="middle" textLength="65.0" lengthAdjust="spacingAndGlyphs">Server at C:</text>
<text x="916.3" y="640.0" text-anchor="middle" textLength="54.2" lengthAdjust="spacingAndGlyphs">WIN2003-</text>
<text x="916.3" y="652.0" text-anchor="middle" textLength="62.5" lengthAdjust="spacingAndGlyphs">DEMO at C:</text>
<text x="992.6" y="640.0" text-anchor="middle" textLength="45.0" lengthAdjust="spacingAndGlyphs">PDC at /</text>
<text x="1069.0" y="640.0" text-anchor="middle" textLength="38.0" lengthAdjust="spacingAndGlyphs">PDC at</text>
<text x="1069.0" y="652.0" text-anchor="middle" textLength="36.5" lengthAdjust="spacingAndGlyphs">/home</text>
<text x="1145.3" y="640.0" text-anchor="middle" textLength="38.0" lengthAdjust="spacingAndGlyphs">PDC at</text>
<text x="1145.3" y="652.0" text-anchor="middle" textLength="44.5" lengthAdjust="spacingAndGlyphs">/backup</text>
<text x="1221.7" y="640.0" text-anchor="middle" textLength="38.0" lengthAdjust="spacingAndGlyphs">PDC at</text>
<text x="1221.7" y="652.0" text-anchor="middle" textLength="51.2" lengthAdjust="spacingAndGlyphs">/backup2</text>
</svg>
<div class="b xf" style="left:46px;top:768px;width:578px;height:122px;"></div>
<div class="b xi" style="left:51px;top:773px;width:568px;height:112px;"></div>
<div class="b" style="left:53px;top:775px;width:564px;height:108px;background:#fff"></div>
<div class="b gh" style="left:53px;top:775px;width:564px;height:25px;"></div>
<div class="b" style="left:240px;top:775px;width:2px;height:24px;border-left:1px solid #c5c5c5;border-right:1px solid #fbfbfb"></div>
<div class="t" style="left:59px;top:780.29px;font-size:11px;line-height:15px;letter-spacing:-0.222px;">Device Category</div>
<div class="b" style="left:427.5px;top:775px;width:2px;height:24px;border-left:1px solid #c5c5c5;border-right:1px solid #fbfbfb"></div>
<div class="t" style="left:241px;top:780.29px;font-size:11px;line-height:15px;width:187.5px;text-align:center;letter-spacing:-0.102px;">Uptime (%)</div>
<div class="t" style="left:428.5px;top:780.29px;font-size:11px;line-height:15px;width:188.5px;text-align:center;"></div>
<div class="b" style="left:53px;top:800px;width:564px;height:21px;background:#fff;border-bottom:1px solid #ededed"></div>
<div class="t" style="left:59px;top:802.99px;font-size:11px;line-height:15px;letter-spacing:-0.212px;">Disk Array</div>
<div class="t" style="left:241px;top:802.99px;font-size:11px;line-height:15px;width:189px;text-align:center;letter-spacing:-0.106px;">60.90</div>
<div class="b" style="left:435px;top:804px;width:169px;height:13px;background:#ff0000"></div>
<div class="b" style="left:435px;top:804px;width:103px;height:13px;background:#00bb00"></div>
<div class="b" style="left:53px;top:821px;width:564px;height:21px;background:#fafafa;border-bottom:1px solid #ededed"></div>
<div class="t" style="left:59px;top:823.99px;font-size:11px;line-height:15px;letter-spacing:-0.068px;">Server</div>
<div class="t" style="left:241px;top:823.99px;font-size:11px;line-height:15px;width:189px;text-align:center;letter-spacing:-0.109px;">100.00</div>
<div class="b" style="left:435px;top:825px;width:169px;height:13px;background:#ff0000"></div>
<div class="b" style="left:435px;top:825px;width:169px;height:13px;background:#00bb00"></div>
<div class="b" style="left:53px;top:842px;width:564px;height:21px;background:#fff;border-bottom:1px solid #ededed"></div>
<div class="t" style="left:59px;top:844.99px;font-size:11px;line-height:15px;letter-spacing:-0.108px;">Virtual Machine</div>
<div class="t" style="left:241px;top:844.99px;font-size:11px;line-height:15px;width:189px;text-align:center;letter-spacing:-0.109px;">100.00</div>
<div class="b" style="left:435px;top:846px;width:169px;height:13px;background:#ff0000"></div>
<div class="b" style="left:435px;top:846px;width:169px;height:13px;background:#00bb00"></div>
<div class="b xf" style="left:682px;top:768px;width:578px;height:262px;"></div>
<div class="b xi" style="left:687px;top:773px;width:568px;height:252px;"></div>
<div class="b" style="left:689px;top:775px;width:564px;height:248px;background:#fff"></div>
<div class="b gh" style="left:689px;top:775px;width:564px;height:25px;"></div>
<div class="b" style="left:870.5px;top:775px;width:2px;height:24px;border-left:1px solid #c5c5c5;border-right:1px solid #fbfbfb"></div>
<div class="t" style="left:695px;top:780.29px;font-size:11px;line-height:15px;letter-spacing:-0.337px;">Host Name</div>
<div class="b" style="left:1052.5px;top:775px;width:2px;height:24px;border-left:1px solid #c5c5c5;border-right:1px solid #fbfbfb"></div>
<div class="t" style="left:877.5px;top:780.29px;font-size:11px;line-height:15px;letter-spacing:-0.186px;">Alarm Message</div>
<div class="b" style="left:1234.5px;top:775px;width:2px;height:24px;border-left:1px solid #c5c5c5;border-right:1px solid #fbfbfb"></div>
<div class="t" style="left:1053.5px;top:780.29px;font-size:11px;line-height:15px;width:182px;text-align:center;letter-spacing:-0.262px;">Time</div>
<div class="b" style="left:689px;top:800px;width:564px;height:223px;overflow:hidden">
<div class="b" style="left:-689px;top:-800px;width:0;height:0">
<div class="b" style="left:689px;top:800px;width:548px;height:22px;background:#fff;border-bottom:1px solid #ededed"></div>
<div class="t" style="left:695px;top:803.09px;font-size:11px;line-height:15px;letter-spacing:-0.461px;">WIN2003-DEMO</div>
<svg class="b" style="left:877px;top:802px" width="16" height="16" viewBox="0 0 16 16"><defs><radialGradient id="ar" cx="0.5" cy="0.95" r="0.75"><stop offset="0" stop-color="#ffd23a"/><stop offset="0.35" stop-color="#f8531a"/><stop offset="0.75" stop-color="#e80c0c"/><stop offset="1" stop-color="#d40000"/></radialGradient><linearGradient id="ah" x1="0" y1="0" x2="0" y2="1"><stop offset="0" stop-color="#fff" stop-opacity="0.85"/><stop offset="1" stop-color="#fff" stop-opacity="0"/></linearGradient></defs><circle cx="8" cy="8" r="6.7" fill="url(#ar)" stroke="#8e1a12" stroke-width="0.9"/><ellipse cx="8" cy="4.9" rx="4.3" ry="2.9" fill="url(#ah)"/></svg>
<div class="t" style="left:895.5px;top:803.89px;font-size:11px;line-height:15px;letter-spacing:-0.127px;">Processor overall utilization o…</div>
<div class="t" style="left:1052.5px;top:802.89px;font-size:11px;line-height:15px;width:182px;text-align:center;letter-spacing:-0.061px;">2018-03-10 09:25:18</div>
<div class="b" style="left:689px;top:822px;width:548px;height:23px;background:#fafafa;border-bottom:1px solid #ededed"></div>
<div class="t" style="left:695px;top:826.09px;font-size:11px;line-height:15px;letter-spacing:-1.078px;">PDC</div>
<svg class="b" style="left:877px;top:825px" width="16" height="16" viewBox="0 0 16 16"><defs><radialGradient id="ag" cx="0.5" cy="0.95" r="0.75"><stop offset="0" stop-color="#b8f06a"/><stop offset="0.4" stop-color="#3fc233"/><stop offset="0.8" stop-color="#16961c"/><stop offset="1" stop-color="#0f8a18"/></radialGradient><linearGradient id="ah" x1="0" y1="0" x2="0" y2="1"><stop offset="0" stop-color="#fff" stop-opacity="0.85"/><stop offset="1" stop-color="#fff" stop-opacity="0"/></linearGradient></defs><circle cx="8" cy="8" r="6.7" fill="url(#ag)" stroke="#1d5c1c" stroke-width="0.9"/><ellipse cx="8" cy="4.9" rx="4.3" ry="2.9" fill="url(#ah)"/></svg>
<div class="t" style="left:895.5px;top:826.89px;font-size:11px;line-height:15px;letter-spacing:-0.127px;">Processor overall utilization o…</div>
<div class="t" style="left:1052.5px;top:825.89px;font-size:11px;line-height:15px;width:182px;text-align:center;letter-spacing:-0.061px;">2018-03-10 09:24:47</div>
<div class="b" style="left:689px;top:845px;width:548px;height:23px;background:#fff;border-bottom:1px solid #ededed"></div>
<div class="t" style="left:695px;top:849.09px;font-size:11px;line-height:15px;letter-spacing:-0.041px;">172.16.11.137</div>
<svg class="b" style="left:877px;top:848px" width="16" height="16" viewBox="0 0 16 16"><defs><radialGradient id="ar" cx="0.5" cy="0.95" r="0.75"><stop offset="0" stop-color="#ffd23a"/><stop offset="0.35" stop-color="#f8531a"/><stop offset="0.75" stop-color="#e80c0c"/><stop offset="1" stop-color="#d40000"/></radialGradient><linearGradient id="ah" x1="0" y1="0" x2="0" y2="1"><stop offset="0" stop-color="#fff" stop-opacity="0.85"/><stop offset="1" stop-color="#fff" stop-opacity="0"/></linearGradient></defs><circle cx="8" cy="8" r="6.7" fill="url(#ar)" stroke="#8e1a12" stroke-width="0.9"/><ellipse cx="8" cy="4.9" rx="4.3" ry="2.9" fill="url(#ah)"/></svg>
<div class="t" style="left:895.5px;top:849.89px;font-size:11px;line-height:15px;letter-spacing:-0.195px;">The Device/system availabilit…</div>
<div class="t" style="left:1052.5px;top:848.89px;font-size:11px;line-height:15px;width:182px;text-align:center;letter-spacing:-0.061px;">2018-03-09 20:04:17</div>
<div class="b" style="left:689px;top:868px;width:548px;height:23px;background:#fafafa;border-bottom:1px solid #ededed"></div>
<div class="t" style="left:695px;top:872.09px;font-size:11px;line-height:15px;letter-spacing:-0.141px;">SapphireIMS MySQL Server</div>
<svg class="b" style="left:877px;top:871px" width="16" height="16" viewBox="0 0 16 16"><defs><radialGradient id="ar" cx="0.5" cy="0.95" r="0.75"><stop offset="0" stop-color="#ffd23a"/><stop offset="0.35" stop-color="#f8531a"/><stop offset="0.75" stop-color="#e80c0c"/><stop offset="1" stop-color="#d40000"/></radialGradient><linearGradient id="ah" x1="0" y1="0" x2="0" y2="1"><stop offset="0" stop-color="#fff" stop-opacity="0.85"/><stop offset="1" stop-color="#fff" stop-opacity="0"/></linearGradient></defs><circle cx="8" cy="8" r="6.7" fill="url(#ar)" stroke="#8e1a12" stroke-width="0.9"/><ellipse cx="8" cy="4.9" rx="4.3" ry="2.9" fill="url(#ah)"/></svg>
<div class="t" style="left:895.5px;top:872.89px;font-size:11px;line-height:15px;letter-spacing:-0.155px;">The mySQL availability of res…</div>
<div class="t" style="left:1052.5px;top:871.89px;font-size:11px;line-height:15px;width:182px;text-align:center;letter-spacing:-0.061px;">2018-03-05 16:14:20</div>
<div class="b" style="left:689px;top:891px;width:548px;height:23px;background:#fff;border-bottom:1px solid #ededed"></div>
<div class="t" style="left:695px;top:895.09px;font-size:11px;line-height:15px;letter-spacing:-0.461px;">WIN2003-DEMO</div>
<svg class="b" style="left:877px;top:894px" width="16" height="16" viewBox="0 0 16 16"><defs><radialGradient id="ar" cx="0.5" cy="0.95" r="0.75"><stop offset="0" stop-color="#ffd23a"/><stop offset="0.35" stop-color="#f8531a"/><stop offset="0.75" stop-color="#e80c0c"/><stop offset="1" stop-color="#d40000"/></radialGradient><linearGradient id="ah" x1="0" y1="0" x2="0" y2="1"><stop offset="0" stop-color="#fff" stop-opacity="0.85"/><stop offset="1" stop-color="#fff" stop-opacity="0"/></linearGradient></defs><circle cx="8" cy="8" r="6.7" fill="url(#ar)" stroke="#8e1a12" stroke-width="0.9"/><ellipse cx="8" cy="4.9" rx="4.3" ry="2.9" fill="url(#ah)"/></svg>
<div class="t" style="left:895.5px;top:895.89px;font-size:11px;line-height:15px;letter-spacing:-0.089px;">Memory space utilization of V…</div>
<div class="t" style="left:1052.5px;top:894.89px;font-size:11px;line-height:15px;width:182px;text-align:center;letter-spacing:-0.061px;">2018-03-05 13:13:26</div>
<div class="b" style="left:689px;top:914px;width:548px;height:23px;background:#fafafa;border-bottom:1px solid #ededed"></div>
<div class="t" style="left:695px;top:918.09px;font-size:11px;line-height:15px;letter-spacing:-0.466px;">METSAT</div>
<svg class="b" style="left:877px;top:917px" width="16" height="16" viewBox="0 0 16 16"><defs><radialGradient id="ar" cx="0.5" cy="0.95" r="0.75"><stop offset="0" stop-color="#ffd23a"/><stop offset="0.35" stop-color="#f8531a"/><stop offset="0.75" stop-color="#e80c0c"/><stop offset="1" stop-color="#d40000"/></radialGradient><linearGradient id="ah" x1="0" y1="0" x2="0" y2="1"><stop offset="0" stop-color="#fff" stop-opacity="0.85"/><stop offset="1" stop-color="#fff" stop-opacity="0"/></linearGradient></defs><circle cx="8" cy="8" r="6.7" fill="url(#ar)" stroke="#8e1a12" stroke-width="0.9"/><ellipse cx="8" cy="4.9" rx="4.3" ry="2.9" fill="url(#ah)"/></svg>
<div class="t" style="left:895.5px;top:918.89px;font-size:11px;line-height:15px;letter-spacing:-0.127px;">Processor overall utilization o…</div>
<div class="t" style="left:1052.5px;top:917.89px;font-size:11px;line-height:15px;width:182px;text-align:center;letter-spacing:-0.017px;">2017-12-07 11:23:19</div>
<div class="b" style="left:689px;top:937px;width:548px;height:22px;background:#fff;border-bottom:1px solid #ededed"></div>
<div class="t" style="left:695px;top:940.09px;font-size:11px;line-height:15px;letter-spacing:-0.466px;">METSAT</div>
<svg class="b" style="left:877px;top:939px" width="16" height="16" viewBox="0 0 16 16"><defs><radialGradient id="ar" cx="0.5" cy="0.95" r="0.75"><stop offset="0" stop-color="#ffd23a"/><stop offset="0.35" stop-color="#f8531a"/><stop offset="0.75" stop-color="#e80c0c"/><stop offset="1" stop-color="#d40000"/></radialGradient><linearGradient id="ah" x1="0" y1="0" x2="0" y2="1"><stop offset="0" stop-color="#fff" stop-opacity="0.85"/><stop offset="1" stop-color="#fff" stop-opacity="0"/></linearGradient></defs><circle cx="8" cy="8" r="6.7" fill="url(#ar)" stroke="#8e1a12" stroke-width="0.9"/><ellipse cx="8" cy="4.9" rx="4.3" ry="2.9" fill="url(#ah)"/></svg>
<div class="t" style="left:895.5px;top:940.89px;font-size:11px;line-height:15px;letter-spacing:-0.089px;">Memory space utilization of V…</div>
<div class="t" style="left:1052.5px;top:939.89px;font-size:11px;line-height:15px;width:182px;text-align:center;letter-spacing:-0.061px;">2017-12-07 10:53:20</div>
<div class="b" style="left:689px;top:959px;width:548px;height:23px;background:#fafafa;border-bottom:1px solid #ededed"></div>
<div class="t" style="left:695px;top:963.09px;font-size:11px;line-height:15px;letter-spacing:-0.466px;">METSAT</div>
<svg class="b" style="left:877px;top:962px" width="16" height="16" viewBox="0 0 16 16"><defs><radialGradient id="ar" cx="0.5" cy="0.95" r="0.75"><stop offset="0" stop-color="#ffd23a"/><stop offset="0.35" stop-color="#f8531a"/><stop offset="0.75" stop-color="#e80c0c"/><stop offset="1" stop-color="#d40000"/></radialGradient><linearGradient id="ah" x1="0" y1="0" x2="0" y2="1"><stop offset="0" stop-color="#fff" stop-opacity="0.85"/><stop offset="1" stop-color="#fff" stop-opacity="0"/></linearGradient></defs><circle cx="8" cy="8" r="6.7" fill="url(#ar)" stroke="#8e1a12" stroke-width="0.9"/><ellipse cx="8" cy="4.9" rx="4.3" ry="2.9" fill="url(#ah)"/></svg>
<div class="t" style="left:895.5px;top:963.89px;font-size:11px;line-height:15px;letter-spacing:-0.127px;">Processor overall utilization o…</div>
<div class="t" style="left:1052.5px;top:962.89px;font-size:11px;line-height:15px;width:182px;text-align:center;letter-spacing:-0.061px;">2017-12-07 10:38:45</div>
<div class="b" style="left:689px;top:982px;width:548px;height:23px;background:#fff;border-bottom:1px solid #ededed"></div>
<div class="t" style="left:695px;top:986.09px;font-size:11px;line-height:15px;letter-spacing:-0.466px;">METSAT</div>
<svg class="b" style="left:877px;top:985px" width="16" height="16" viewBox="0 0 16 16"><defs><radialGradient id="ar" cx="0.5" cy="0.95" r="0.75"><stop offset="0" stop-color="#ffd23a"/><stop offset="0.35" stop-color="#f8531a"/><stop offset="0.75" stop-color="#e80c0c"/><stop offset="1" stop-color="#d40000"/></radialGradient><linearGradient id="ah" x1="0" y1="0" x2="0" y2="1"><stop offset="0" stop-color="#fff" stop-opacity="0.85"/><stop offset="1" stop-color="#fff" stop-opacity="0"/></linearGradient></defs><circle cx="8" cy="8" r="6.7" fill="url(#ar)" stroke="#8e1a12" stroke-width="0.9"/><ellipse cx="8" cy="4.9" rx="4.3" ry="2.9" fill="url(#ah)"/></svg>
<div class="t" style="left:895.5px;top:986.89px;font-size:11px;line-height:15px;letter-spacing:-0.127px;">Processor overall utilization o…</div>
<div class="t" style="left:1052.5px;top:985.89px;font-size:11px;line-height:15px;width:182px;text-align:center;letter-spacing:-0.061px;">2017-12-07 04:38:57</div>
<div class="b" style="left:689px;top:1005px;width:548px;height:23px;background:#fafafa;border-bottom:1px solid #ededed"></div>
<div class="t" style="left:695px;top:1009.09px;font-size:11px;line-height:15px;letter-spacing:-0.466px;">METSAT</div>
<svg class="b" style="left:877px;top:1008px" width="16" height="16" viewBox="0 0 16 16"><defs><radialGradient id="ar" cx="0.5" cy="0.95" r="0.75"><stop offset="0" stop-color="#ffd23a"/><stop offset="0.35" stop-color="#f8531a"/><stop offset="0.75" stop-color="#e80c0c"/><stop offset="1" stop-color="#d40000"/></radialGradient><linearGradient id="ah" x1="0" y1="0" x2="0" y2="1"><stop offset="0" stop-color="#fff" stop-opacity="0.85"/><stop offset="1" stop-color="#fff" stop-opacity="0"/></linearGradient></defs><circle cx="8" cy="8" r="6.7" fill="url(#ar)" stroke="#8e1a12" stroke-width="0.9"/><ellipse cx="8" cy="4.9" rx="4.3" ry="2.9" fill="url(#ah)"/></svg>
<div class="t" style="left:895.5px;top:1009.89px;font-size:11px;line-height:15px;letter-spacing:-0.127px;">Processor overall utilization o…</div>
<div class="t" style="left:1052.5px;top:1008.89px;font-size:11px;line-height:15px;width:182px;text-align:center;letter-spacing:-0.061px;">2017-12-07 04:08:54</div>
</div></div>
<div class="b" style="left:1237px;top:800px;width:16px;height:223px;background:#f1f1f1"></div>
<div class="b" style="left:1238px;top:817px;width:14px;height:184.5px;background:#c1c1c1"></div>
<svg class="b" style="left:1237px;top:800px" width="16" height="16" viewBox="0 0 16 16"><path d="M4.3 10.2 8 6.5 11.7 10.2" fill="none" stroke="#505050" stroke-width="1.8"/></svg>
<svg class="b" style="left:1237px;top:1007px" width="16" height="16" viewBox="0 0 16 16"><path d="M4.3 5.8 8 9.5 11.7 5.8" fill="none" stroke="#505050" stroke-width="1.8"/></svg>
<div class="b xf" style="left:46px;top:1192px;width:578px;height:262px;"></div>
<div class="b xi" style="left:51px;top:1197px;width:568px;height:252px;"></div>
<div class="b" style="left:53px;top:1199px;width:564px;height:248px;background:#fff"></div>
<div class="b gh" style="left:53px;top:1199px;width:564px;height:25px;"></div>
<div class="b" style="left:192.5px;top:1199px;width:2px;height:24px;border-left:1px solid #c5c5c5;border-right:1px solid #fbfbfb"></div>
<div class="t" style="left:59px;top:1204.29px;font-size:11px;line-height:15px;letter-spacing:-0.337px;">Host Name</div>
<div class="b" style="left:333.5px;top:1199px;width:2px;height:24px;border-left:1px solid #c5c5c5;border-right:1px solid #fbfbfb"></div>
<div class="t" style="left:199.5px;top:1204.29px;font-size:11px;line-height:15px;letter-spacing:-0.086px;">Interface Name</div>
<div class="b" style="left:474.5px;top:1199px;width:2px;height:24px;border-left:1px solid #c5c5c5;border-right:1px solid #fbfbfb"></div>
<div class="t" style="left:334.5px;top:1204.29px;font-size:11px;line-height:15px;width:141px;text-align:center;letter-spacing:-0.155px;">Received (Kbps)</div>
<div class="b" style="left:616px;top:1199px;width:2px;height:24px;border-left:1px solid #c5c5c5;border-right:1px solid #fbfbfb"></div>
<div class="t" style="left:475.5px;top:1204.29px;font-size:11px;line-height:15px;width:141.5px;text-align:center;letter-spacing:-0.099px;">Sent (Kbps)</div>
<div class="b" style="left:53px;top:1224px;width:564px;height:21px;background:#fff;border-bottom:1px solid #ededed"></div>
<div class="t" style="left:59px;top:1226.99px;font-size:11px;line-height:15px;letter-spacing:-0.102px;">172.16.10.1</div>
<div class="t" style="left:199.5px;top:1226.99px;font-size:11px;line-height:15px;letter-spacing:-0.297px;">ixp0</div>
<div class="t" style="left:334.5px;top:1226.99px;font-size:11px;line-height:15px;width:141px;text-align:center;letter-spacing:-0.109px;">2208.23</div>
<div class="t" style="left:475.5px;top:1226.99px;font-size:11px;line-height:15px;width:141.5px;text-align:center;letter-spacing:-0.105px;">0.25</div>
<div class="b" style="left:53px;top:1245px;width:564px;height:21px;background:#fafafa;border-bottom:1px solid #ededed"></div>
<div class="t" style="left:59px;top:1247.99px;font-size:11px;line-height:15px;letter-spacing:-0.118px;">SapphireIMSServer</div>
<div class="t" style="left:199.5px;top:1247.99px;font-size:11px;line-height:15px;letter-spacing:-0.351px;">Intel[R] PRO_1000 MT N…</div>
<div class="t" style="left:334.5px;top:1247.99px;font-size:11px;line-height:15px;width:141px;text-align:center;letter-spacing:-0.109px;">220.09</div>
<div class="t" style="left:475.5px;top:1247.99px;font-size:11px;line-height:15px;width:141.5px;text-align:center;letter-spacing:-0.106px;">33.15</div>
<div class="b" style="left:53px;top:1266px;width:564px;height:21px;background:#fff;border-bottom:1px solid #ededed"></div>
<div class="t" style="left:59px;top:1268.99px;font-size:11px;line-height:15px;letter-spacing:-0.461px;">WIN2003-DEMO</div>
<div class="t" style="left:199.5px;top:1268.99px;font-size:11px;line-height:15px;letter-spacing:-0.351px;">Intel[R] PRO_1000 MT N…</div>
<div class="t" style="left:334.5px;top:1268.99px;font-size:11px;line-height:15px;width:141px;text-align:center;letter-spacing:-0.106px;">95.04</div>
<div class="t" style="left:475.5px;top:1268.99px;font-size:11px;line-height:15px;width:141.5px;text-align:center;letter-spacing:-0.106px;">54.77</div>
<div class="b" style="left:53px;top:1287px;width:564px;height:21px;background:#fafafa;border-bottom:1px solid #ededed"></div>
<div class="t" style="left:59px;top:1289.99px;font-size:11px;line-height:15px;letter-spacing:-1.078px;">PDC</div>
<div class="t" style="left:199.5px;top:1289.99px;font-size:11px;line-height:15px;letter-spacing:-0.105px;">eth0</div>
<div class="t" style="left:334.5px;top:1289.99px;font-size:11px;line-height:15px;width:141px;text-align:center;letter-spacing:-0.106px;">80.97</div>
<div class="t" style="left:475.5px;top:1289.99px;font-size:11px;line-height:15px;width:141.5px;text-align:center;letter-spacing:-0.109px;">156.78</div>
<div class="b" style="left:53px;top:1308px;width:564px;height:21px;background:#fff;border-bottom:1px solid #ededed"></div>
<div class="t" style="left:59px;top:1310.99px;font-size:11px;line-height:15px;letter-spacing:-0.041px;">172.16.11.222</div>
<div class="t" style="left:199.5px;top:1310.99px;font-size:11px;line-height:15px;letter-spacing:-0.290px;">RMON Port 7 on Unit 1</div>
<div class="t" style="left:334.5px;top:1310.99px;font-size:11px;line-height:15px;width:141px;text-align:center;letter-spacing:-0.106px;">69.39</div>
<div class="t" style="left:475.5px;top:1310.99px;font-size:11px;line-height:15px;width:141.5px;text-align:center;letter-spacing:-0.105px;">1.56</div>
<div class="b" style="left:53px;top:1329px;width:564px;height:21px;background:#fafafa;border-bottom:1px solid #ededed"></div>
<div class="t" style="left:59px;top:1331.99px;font-size:11px;line-height:15px;letter-spacing:-0.041px;">172.16.11.222</div>
<div class="t" style="left:199.5px;top:1331.99px;font-size:11px;line-height:15px;letter-spacing:-0.290px;">RMON Port 3 on Unit 1</div>
<div class="t" style="left:334.5px;top:1331.99px;font-size:11px;line-height:15px;width:141px;text-align:center;letter-spacing:-0.105px;">4.93</div>
<div class="t" style="left:475.5px;top:1331.99px;font-size:11px;line-height:15px;width:141.5px;text-align:center;letter-spacing:-0.109px;">225.22</div>
<div class="b" style="left:53px;top:1350px;width:564px;height:21px;background:#fff;border-bottom:1px solid #ededed"></div>
<div class="t" style="left:59px;top:1352.99px;font-size:11px;line-height:15px;letter-spacing:-0.102px;">172.16.10.1</div>
<div class="t" style="left:199.5px;top:1352.99px;font-size:11px;line-height:15px;letter-spacing:-0.281px;">lo</div>
<div class="t" style="left:334.5px;top:1352.99px;font-size:11px;line-height:15px;width:141px;text-align:center;letter-spacing:-0.105px;">0.01</div>
<div class="t" style="left:475.5px;top:1352.99px;font-size:11px;line-height:15px;width:141.5px;text-align:center;letter-spacing:-0.105px;">0.01</div>
<div class="b" style="left:53px;top:1371px;width:564px;height:21px;background:#fafafa;border-bottom:1px solid #ededed"></div>
<div class="t" style="left:59px;top:1373.99px;font-size:11px;line-height:15px;letter-spacing:-0.118px;">SapphireIMSServer</div>
<div class="t" style="left:199.5px;top:1373.99px;font-size:11px;line-height:15px;letter-spacing:-0.202px;">Teredo Tunneling Pseud…</div>
<div class="t" style="left:334.5px;top:1373.99px;font-size:11px;line-height:15px;width:141px;text-align:center;letter-spacing:-0.105px;">0.00</div>
<div class="t" style="left:475.5px;top:1373.99px;font-size:11px;line-height:15px;width:141.5px;text-align:center;letter-spacing:-0.105px;">0.00</div>
<div class="b" style="left:53px;top:1392px;width:564px;height:21px;background:#fff;border-bottom:1px solid #ededed"></div>
<div class="t" style="left:59px;top:1394.99px;font-size:11px;line-height:15px;letter-spacing:-0.102px;">172.16.10.1</div>
<div class="t" style="left:199.5px;top:1394.99px;font-size:11px;line-height:15px;letter-spacing:-0.297px;">ixp1</div>
<div class="t" style="left:334.5px;top:1394.99px;font-size:11px;line-height:15px;width:141px;text-align:center;letter-spacing:-0.105px;">0.00</div>
<div class="t" style="left:475.5px;top:1394.99px;font-size:11px;line-height:15px;width:141.5px;text-align:center;letter-spacing:-0.105px;">0.00</div>
<div class="b" style="left:53px;top:1413px;width:564px;height:21px;background:#fafafa;border-bottom:1px solid #ededed"></div>
<div class="t" style="left:59px;top:1415.99px;font-size:11px;line-height:15px;letter-spacing:-0.118px;">SapphireIMSServer</div>
<div class="t" style="left:199.5px;top:1415.99px;font-size:11px;line-height:15px;letter-spacing:-0.274px;">isatap.{E145AF30-453C…</div>
<div class="t" style="left:334.5px;top:1415.99px;font-size:11px;line-height:15px;width:141px;text-align:center;letter-spacing:-0.105px;">0.00</div>
<div class="t" style="left:475.5px;top:1415.99px;font-size:11px;line-height:15px;width:141.5px;text-align:center;letter-spacing:-0.105px;">0.00</div>
<div class="b xf" style="left:682px;top:1192px;width:578px;height:262px;"></div>
<div class="b xi" style="left:687px;top:1197px;width:568px;height:252px;"></div>
<div class="b" style="left:689px;top:1199px;width:564px;height:248px;background:#fff"></div>
<div class="b gh" style="left:689px;top:1199px;width:564px;height:25px;"></div>
<div class="b" style="left:828.5px;top:1199px;width:2px;height:24px;border-left:1px solid #c5c5c5;border-right:1px solid #fbfbfb"></div>
<div class="t" style="left:695px;top:1204.29px;font-size:11px;line-height:15px;letter-spacing:-0.337px;">Host Name</div>
<div class="b" style="left:969.5px;top:1199px;width:2px;height:24px;border-left:1px solid #c5c5c5;border-right:1px solid #fbfbfb"></div>
<div class="t" style="left:835.5px;top:1204.29px;font-size:11px;line-height:15px;letter-spacing:-0.086px;">Interface Name</div>
<div class="b" style="left:1110.5px;top:1199px;width:2px;height:24px;border-left:1px solid #c5c5c5;border-right:1px solid #fbfbfb"></div>
<div class="t" style="left:970.5px;top:1204.29px;font-size:11px;line-height:15px;width:141px;text-align:center;letter-spacing:-0.082px;">Receive (%)</div>
<div class="b" style="left:1252px;top:1199px;width:2px;height:24px;border-left:1px solid #c5c5c5;border-right:1px solid #fbfbfb"></div>
<div class="t" style="left:1111.5px;top:1204.29px;font-size:11px;line-height:15px;width:141.5px;text-align:center;letter-spacing:-0.046px;">Transmit (%)</div>
<div class="b" style="left:689px;top:1224px;width:564px;height:21px;background:#fff;border-bottom:1px solid #ededed"></div>
<div class="t" style="left:695px;top:1226.99px;font-size:11px;line-height:15px;letter-spacing:-0.102px;">172.16.10.1</div>
<div class="t" style="left:835.5px;top:1226.99px;font-size:11px;line-height:15px;letter-spacing:-0.297px;">ixp0</div>
<div class="t" style="left:970.5px;top:1226.99px;font-size:11px;line-height:15px;width:141px;text-align:center;letter-spacing:-0.106px;">22.08</div>
<div class="t" style="left:1111.5px;top:1226.99px;font-size:11px;line-height:15px;width:141.5px;text-align:center;letter-spacing:-0.105px;">0.00</div>
<div class="b" style="left:689px;top:1245px;width:564px;height:21px;background:#fafafa;border-bottom:1px solid #ededed"></div>
<div class="t" style="left:695px;top:1247.99px;font-size:11px;line-height:15px;letter-spacing:-0.041px;">172.16.11.222</div>
<div class="t" style="left:835.5px;top:1247.99px;font-size:11px;line-height:15px;letter-spacing:-0.290px;">RMON Port 7 on Unit 1</div>
<div class="t" style="left:970.5px;top:1247.99px;font-size:11px;line-height:15px;width:141px;text-align:center;letter-spacing:-0.105px;">0.07</div>
<div class="t" style="left:1111.5px;top:1247.99px;font-size:11px;line-height:15px;width:141.5px;text-align:center;letter-spacing:-0.105px;">0.00</div>
<div class="b" style="left:689px;top:1266px;width:564px;height:21px;background:#fff;border-bottom:1px solid #ededed"></div>
<div class="t" style="left:695px;top:1268.99px;font-size:11px;line-height:15px;letter-spacing:-0.102px;">172.16.10.1</div>
<div class="t" style="left:835.5px;top:1268.99px;font-size:11px;line-height:15px;letter-spacing:-0.297px;">ixp1</div>
<div class="t" style="left:970.5px;top:1268.99px;font-size:11px;line-height:15px;width:141px;text-align:center;letter-spacing:-0.105px;">0.00</div>
<div class="t" style="left:1111.5px;top:1268.99px;font-size:11px;line-height:15px;width:141.5px;text-align:center;letter-spacing:-0.105px;">0.00</div>
<div class="b" style="left:689px;top:1287px;width:564px;height:21px;background:#fafafa;border-bottom:1px solid #ededed"></div>
<div class="t" style="left:695px;top:1289.99px;font-size:11px;line-height:15px;letter-spacing:-0.102px;">172.16.10.1</div>
<div class="t" style="left:835.5px;top:1289.99px;font-size:11px;line-height:15px;letter-spacing:-0.281px;">lo</div>
<div class="t" style="left:970.5px;top:1289.99px;font-size:11px;line-height:15px;width:141px;text-align:center;letter-spacing:-0.105px;">0.00</div>
<div class="t" style="left:1111.5px;top:1289.99px;font-size:11px;line-height:15px;width:141.5px;text-align:center;letter-spacing:-0.105px;">0.00</div>
<div class="b" style="left:689px;top:1308px;width:564px;height:21px;background:#fff;border-bottom:1px solid #ededed"></div>
<div class="t" style="left:695px;top:1310.99px;font-size:11px;line-height:15px;letter-spacing:-0.041px;">172.16.11.222</div>
<div class="t" style="left:835.5px;top:1310.99px;font-size:11px;line-height:15px;letter-spacing:-0.290px;">RMON Port 3 on Unit 1</div>
<div class="t" style="left:970.5px;top:1310.99px;font-size:11px;line-height:15px;width:141px;text-align:center;letter-spacing:-0.105px;">0.00</div>
<div class="t" style="left:1111.5px;top:1310.99px;font-size:11px;line-height:15px;width:141.5px;text-align:center;letter-spacing:-0.105px;">0.23</div>
<div class="b" style="left:689px;top:1329px;width:564px;height:21px;background:#fafafa;border-bottom:1px solid #ededed"></div>
<div class="t" style="left:695px;top:1331.99px;font-size:11px;line-height:15px;letter-spacing:-1.078px;">PDC</div>
<div class="t" style="left:835.5px;top:1331.99px;font-size:11px;line-height:15px;letter-spacing:-0.105px;">eth0</div>
<div class="t" style="left:970.5px;top:1331.99px;font-size:11px;line-height:15px;width:141px;text-align:center;letter-spacing:0.336px;">--</div>
<div class="t" style="left:1111.5px;top:1331.99px;font-size:11px;line-height:15px;width:141.5px;text-align:center;letter-spacing:0.336px;">--</div>
<div class="b" style="left:689px;top:1350px;width:564px;height:21px;background:#fff;border-bottom:1px solid #ededed"></div>
<div class="t" style="left:695px;top:1352.99px;font-size:11px;line-height:15px;letter-spacing:-0.041px;">172.16.11.222</div>
<div class="t" style="left:835.5px;top:1352.99px;font-size:11px;line-height:15px;letter-spacing:-0.246px;">RMON Port 11 on Unit 1</div>
<div class="t" style="left:970.5px;top:1352.99px;font-size:11px;line-height:15px;width:141px;text-align:center;letter-spacing:0.336px;">--</div>
<div class="t" style="left:1111.5px;top:1352.99px;font-size:11px;line-height:15px;width:141.5px;text-align:center;letter-spacing:0.336px;">--</div>
<div class="b" style="left:689px;top:1371px;width:564px;height:21px;background:#fafafa;border-bottom:1px solid #ededed"></div>
<div class="t" style="left:695px;top:1373.99px;font-size:11px;line-height:15px;letter-spacing:-0.041px;">172.16.11.222</div>
<div class="t" style="left:835.5px;top:1373.99px;font-size:11px;line-height:15px;letter-spacing:-0.283px;">RMON Port 14 on Unit 1</div>
<div class="t" style="left:970.5px;top:1373.99px;font-size:11px;line-height:15px;width:141px;text-align:center;letter-spacing:0.336px;">--</div>
<div class="t" style="left:1111.5px;top:1373.99px;font-size:11px;line-height:15px;width:141.5px;text-align:center;letter-spacing:0.336px;">--</div>
<div class="b" style="left:689px;top:1392px;width:564px;height:21px;background:#fff;border-bottom:1px solid #ededed"></div>
<div class="t" style="left:695px;top:1394.99px;font-size:11px;line-height:15px;letter-spacing:-0.466px;">METSAT</div>
<div class="t" style="left:835.5px;top:1394.99px;font-size:11px;line-height:15px;letter-spacing:-0.173px;">VMware Virtual Etherne…</div>
<div class="t" style="left:970.5px;top:1394.99px;font-size:11px;line-height:15px;width:141px;text-align:center;letter-spacing:0.336px;">--</div>
<div class="t" style="left:1111.5px;top:1394.99px;font-size:11px;line-height:15px;width:141.5px;text-align:center;letter-spacing:0.336px;">--</div>
<div class="b" style="left:689px;top:1413px;width:564px;height:21px;background:#fafafa;border-bottom:1px solid #ededed"></div>
<div class="t" style="left:695px;top:1415.99px;font-size:11px;line-height:15px;letter-spacing:-0.041px;">172.16.11.222</div>
<div class="t" style="left:835.5px;top:1415.99px;font-size:11px;line-height:15px;letter-spacing:-0.283px;">RMON Port 17 on Unit 1</div>
<div class="t" style="left:970.5px;top:1415.99px;font-size:11px;line-height:15px;width:141px;text-align:center;letter-spacing:0.336px;">--</div>
<div class="t" style="left:1111.5px;top:1415.99px;font-size:11px;line-height:15px;width:141.5px;text-align:center;letter-spacing:0.336px;">--</div>
<div class="b xf" style="left:40px;top:1526px;width:1213px;height:262px;"></div>
<div class="b xi" style="left:45px;top:1531px;width:1203px;height:252px;"></div>
<div class="b" style="left:47px;top:1533px;width:1199px;height:248px;background:#fff"></div>
<div class="b gh" style="left:47px;top:1533px;width:1199px;height:25px;"></div>
<div class="b" style="left:245.5px;top:1533px;width:2px;height:24px;border-left:1px solid #c5c5c5;border-right:1px solid #fbfbfb"></div>
<div class="t" style="left:53px;top:1538.29px;font-size:11px;line-height:15px;letter-spacing:-0.337px;">Host Name</div>
<div class="b" style="left:445.5px;top:1533px;width:2px;height:24px;border-left:1px solid #c5c5c5;border-right:1px solid #fbfbfb"></div>
<div class="t" style="left:252.5px;top:1538.29px;font-size:11px;line-height:15px;letter-spacing:-0.086px;">Interface Name</div>
<div class="b" style="left:645.5px;top:1533px;width:2px;height:24px;border-left:1px solid #c5c5c5;border-right:1px solid #fbfbfb"></div>
<div class="t" style="left:446.5px;top:1538.29px;font-size:11px;line-height:15px;width:200px;text-align:center;letter-spacing:-0.132px;">In Errors</div>
<div class="b" style="left:845.5px;top:1533px;width:2px;height:24px;border-left:1px solid #c5c5c5;border-right:1px solid #fbfbfb"></div>
<div class="t" style="left:646.5px;top:1538.29px;font-size:11px;line-height:15px;width:200px;text-align:center;letter-spacing:-0.185px;">In Discards</div>
<div class="b" style="left:1045.5px;top:1533px;width:2px;height:24px;border-left:1px solid #c5c5c5;border-right:1px solid #fbfbfb"></div>
<div class="t" style="left:846.5px;top:1538.29px;font-size:11px;line-height:15px;width:200px;text-align:center;letter-spacing:-0.173px;">Out Errors</div>
<div class="b" style="left:1245px;top:1533px;width:2px;height:24px;border-left:1px solid #c5c5c5;border-right:1px solid #fbfbfb"></div>
<div class="t" style="left:1046.5px;top:1538.29px;font-size:11px;line-height:15px;width:199.5px;text-align:center;letter-spacing:-0.215px;">Out Discards</div>
<div class="b" style="left:47px;top:1558px;width:1199px;height:21px;background:#fff;border-bottom:1px solid #ededed"></div>
<div class="t" style="left:53px;top:1560.99px;font-size:11px;line-height:15px;letter-spacing:-0.102px;">172.16.10.1</div>
<div class="t" style="left:252.5px;top:1560.99px;font-size:11px;line-height:15px;letter-spacing:-0.297px;">ixp0</div>
<div class="t" style="left:446.5px;top:1560.99px;font-size:11px;line-height:15px;width:200px;text-align:center;letter-spacing:-0.105px;">0.00</div>
<div class="t" style="left:646.5px;top:1560.99px;font-size:11px;line-height:15px;width:200px;text-align:center;letter-spacing:-0.105px;">0.00</div>
<div class="t" style="left:846.5px;top:1560.99px;font-size:11px;line-height:15px;width:200px;text-align:center;letter-spacing:-0.105px;">0.00</div>
<div class="t" style="left:1046.5px;top:1560.99px;font-size:11px;line-height:15px;width:199.5px;text-align:center;letter-spacing:-0.105px;">0.00</div>
<div class="b" style="left:47px;top:1579px;width:1199px;height:21px;background:#fafafa;border-bottom:1px solid #ededed"></div>
<div class="t" style="left:53px;top:1581.99px;font-size:11px;line-height:15px;letter-spacing:-0.102px;">172.16.10.1</div>
<div class="t" style="left:252.5px;top:1581.99px;font-size:11px;line-height:15px;letter-spacing:-0.281px;">lo</div>
<div class="t" style="left:446.5px;top:1581.99px;font-size:11px;line-height:15px;width:200px;text-align:center;letter-spacing:-0.105px;">0.00</div>
<div class="t" style="left:646.5px;top:1581.99px;font-size:11px;line-height:15px;width:200px;text-align:center;letter-spacing:-0.105px;">0.00</div>
<div class="t" style="left:846.5px;top:1581.99px;font-size:11px;line-height:15px;width:200px;text-align:center;letter-spacing:-0.105px;">0.00</div>
<div class="t" style="left:1046.5px;top:1581.99px;font-size:11px;line-height:15px;width:199.5px;text-align:center;letter-spacing:-0.105px;">0.00</div>
<div class="b" style="left:47px;top:1600px;width:1199px;height:21px;background:#fff;border-bottom:1px solid #ededed"></div>
<div class="t" style="left:53px;top:1602.99px;font-size:11px;line-height:15px;letter-spacing:-0.041px;">172.16.11.222</div>
<div class="t" style="left:252.5px;top:1602.99px;font-size:11px;line-height:15px;letter-spacing:-0.290px;">RMON Port 7 on Unit 1</div>
<div class="t" style="left:446.5px;top:1602.99px;font-size:11px;line-height:15px;width:200px;text-align:center;letter-spacing:-0.105px;">0.00</div>
<div class="t" style="left:646.5px;top:1602.99px;font-size:11px;line-height:15px;width:200px;text-align:center;letter-spacing:-0.105px;">0.00</div>
<div class="t" style="left:846.5px;top:1602.99px;font-size:11px;line-height:15px;width:200px;text-align:center;letter-spacing:-0.105px;">0.00</div>
<div class="t" style="left:1046.5px;top:1602.99px;font-size:11px;line-height:15px;width:199.5px;text-align:center;letter-spacing:-0.105px;">0.00</div>
<div class="b" style="left:47px;top:1621px;width:1199px;height:21px;background:#fafafa;border-bottom:1px solid #ededed"></div>
<div class="t" style="left:53px;top:1623.99px;font-size:11px;line-height:15px;letter-spacing:-0.041px;">172.16.11.222</div>
<div class="t" style="left:252.5px;top:1623.99px;font-size:11px;line-height:15px;letter-spacing:-0.290px;">RMON Port 3 on Unit 1</div>
<div class="t" style="left:446.5px;top:1623.99px;font-size:11px;line-height:15px;width:200px;text-align:center;letter-spacing:-0.105px;">0.00</div>
<div class="t" style="left:646.5px;top:1623.99px;font-size:11px;line-height:15px;width:200px;text-align:center;letter-spacing:-0.105px;">0.00</div>
<div class="t" style="left:846.5px;top:1623.99px;font-size:11px;line-height:15px;width:200px;text-align:center;letter-spacing:-0.105px;">0.00</div>
<div class="t" style="left:1046.5px;top:1623.99px;font-size:11px;line-height:15px;width:199.5px;text-align:center;letter-spacing:-0.105px;">0.00</div>
<div class="b" style="left:47px;top:1642px;width:1199px;height:21px;background:#fff;border-bottom:1px solid #ededed"></div>
<div class="t" style="left:53px;top:1644.99px;font-size:11px;line-height:15px;letter-spacing:-0.102px;">172.16.10.1</div>
<div class="t" style="left:252.5px;top:1644.99px;font-size:11px;line-height:15px;letter-spacing:-0.297px;">ixp1</div>
<div class="t" style="left:446.5px;top:1644.99px;font-size:11px;line-height:15px;width:200px;text-align:center;letter-spacing:-0.105px;">0.00</div>
<div class="t" style="left:646.5px;top:1644.99px;font-size:11px;line-height:15px;width:200px;text-align:center;letter-spacing:-0.105px;">0.00</div>
<div class="t" style="left:846.5px;top:1644.99px;font-size:11px;line-height:15px;width:200px;text-align:center;letter-spacing:-0.105px;">0.00</div>
<div class="t" style="left:1046.5px;top:1644.99px;font-size:11px;line-height:15px;width:199.5px;text-align:center;letter-spacing:-0.105px;">0.00</div>
<div class="b" style="left:47px;top:1663px;width:1199px;height:21px;background:#fafafa;border-bottom:1px solid #ededed"></div>
<div class="t" style="left:53px;top:1665.99px;font-size:11px;line-height:15px;letter-spacing:-0.041px;">172.16.11.222</div>
<div class="t" style="left:252.5px;top:1665.99px;font-size:11px;line-height:15px;letter-spacing:-0.290px;">RMON Port 5 on Unit 1</div>
<div class="t" style="left:446.5px;top:1665.99px;font-size:11px;line-height:15px;width:200px;text-align:center;letter-spacing:0.336px;">--</div>
<div class="t" style="left:646.5px;top:1665.99px;font-size:11px;line-height:15px;width:200px;text-align:center;letter-spacing:0.336px;">--</div>
<div class="t" style="left:846.5px;top:1665.99px;font-size:11px;line-height:15px;width:200px;text-align:center;letter-spacing:0.336px;">--</div>
<div class="t" style="left:1046.5px;top:1665.99px;font-size:11px;line-height:15px;width:199.5px;text-align:center;letter-spacing:0.336px;">--</div>
<div class="b" style="left:47px;top:1684px;width:1199px;height:21px;background:#fff;border-bottom:1px solid #ededed"></div>
<div class="t" style="left:53px;top:1686.99px;font-size:11px;line-height:15px;letter-spacing:-0.041px;">172.16.11.222</div>
<div class="t" style="left:252.5px;top:1686.99px;font-size:11px;line-height:15px;letter-spacing:-0.283px;">RMON Port 21 on Unit 1</div>
<div class="t" style="left:446.5px;top:1686.99px;font-size:11px;line-height:15px;width:200px;text-align:center;letter-spacing:0.336px;">--</div>
<div class="t" style="left:646.5px;top:1686.99px;font-size:11px;line-height:15px;width:200px;text-align:center;letter-spacing:0.336px;">--</div>
<div class="t" style="left:846.5px;top:1686.99px;font-size:11px;line-height:15px;width:200px;text-align:center;letter-spacing:0.336px;">--</div>
<div class="t" style="left:1046.5px;top:1686.99px;font-size:11px;line-height:15px;width:199.5px;text-align:center;letter-spacing:0.336px;">--</div>
<div class="b" style="left:47px;top:1705px;width:1199px;height:21px;background:#fafafa;border-bottom:1px solid #ededed"></div>
<div class="t" style="left:53px;top:1707.99px;font-size:11px;line-height:15px;letter-spacing:-0.041px;">172.16.11.222</div>
<div class="t" style="left:252.5px;top:1707.99px;font-size:11px;line-height:15px;letter-spacing:-0.290px;">RMON Port 1 on Unit 1</div>
<div class="t" style="left:446.5px;top:1707.99px;font-size:11px;line-height:15px;width:200px;text-align:center;letter-spacing:0.336px;">--</div>
<div class="t" style="left:646.5px;top:1707.99px;font-size:11px;line-height:15px;width:200px;text-align:center;letter-spacing:0.336px;">--</div>
<div class="t" style="left:846.5px;top:1707.99px;font-size:11px;line-height:15px;width:200px;text-align:center;letter-spacing:0.336px;">--</div>
<div class="t" style="left:1046.5px;top:1707.99px;font-size:11px;line-height:15px;width:199.5px;text-align:center;letter-spacing:0.336px;">--</div>
<div class="b" style="left:47px;top:1726px;width:1199px;height:21px;background:#fff;border-bottom:1px solid #ededed"></div>
<div class="t" style="left:53px;top:1728.99px;font-size:11px;line-height:15px;letter-spacing:-0.041px;">172.16.11.222</div>
<div class="t" style="left:252.5px;top:1728.99px;font-size:11px;line-height:15px;letter-spacing:-0.283px;">RMON Port 17 on Unit 1</div>
<div class="t" style="left:446.5px;top:1728.99px;font-size:11px;line-height:15px;width:200px;text-align:center;letter-spacing:0.336px;">--</div>
<div class="t" style="left:646.5px;top:1728.99px;font-size:11px;line-height:15px;width:200px;text-align:center;letter-spacing:0.336px;">--</div>
<div class="t" style="left:846.5px;top:1728.99px;font-size:11px;line-height:15px;width:200px;text-align:center;letter-spacing:0.336px;">--</div>
<div class="t" style="left:1046.5px;top:1728.99px;font-size:11px;line-height:15px;width:199.5px;text-align:center;letter-spacing:0.336px;">--</div>
<div class="b" style="left:47px;top:1747px;width:1199px;height:21px;background:#fafafa;border-bottom:1px solid #ededed"></div>
<div class="t" style="left:53px;top:1749.99px;font-size:11px;line-height:15px;letter-spacing:-0.118px;">SapphireIMSServer</div>
<div class="t" style="left:252.5px;top:1749.99px;font-size:11px;line-height:15px;letter-spacing:-0.098px;">Teredo Tunneling Pseudo-Interface</div>
<div class="t" style="left:446.5px;top:1749.99px;font-size:11px;line-height:15px;width:200px;text-align:center;letter-spacing:0.336px;">--</div>
<div class="t" style="left:646.5px;top:1749.99px;font-size:11px;line-height:15px;width:200px;text-align:center;letter-spacing:0.336px;">--</div>
<div class="t" style="left:846.5px;top:1749.99px;font-size:11px;line-height:15px;width:200px;text-align:center;letter-spacing:0.336px;">--</div>
<div class="t" style="left:1046.5px;top:1749.99px;font-size:11px;line-height:15px;width:199.5px;text-align:center;letter-spacing:0.336px;">--</div>

</body></html>
